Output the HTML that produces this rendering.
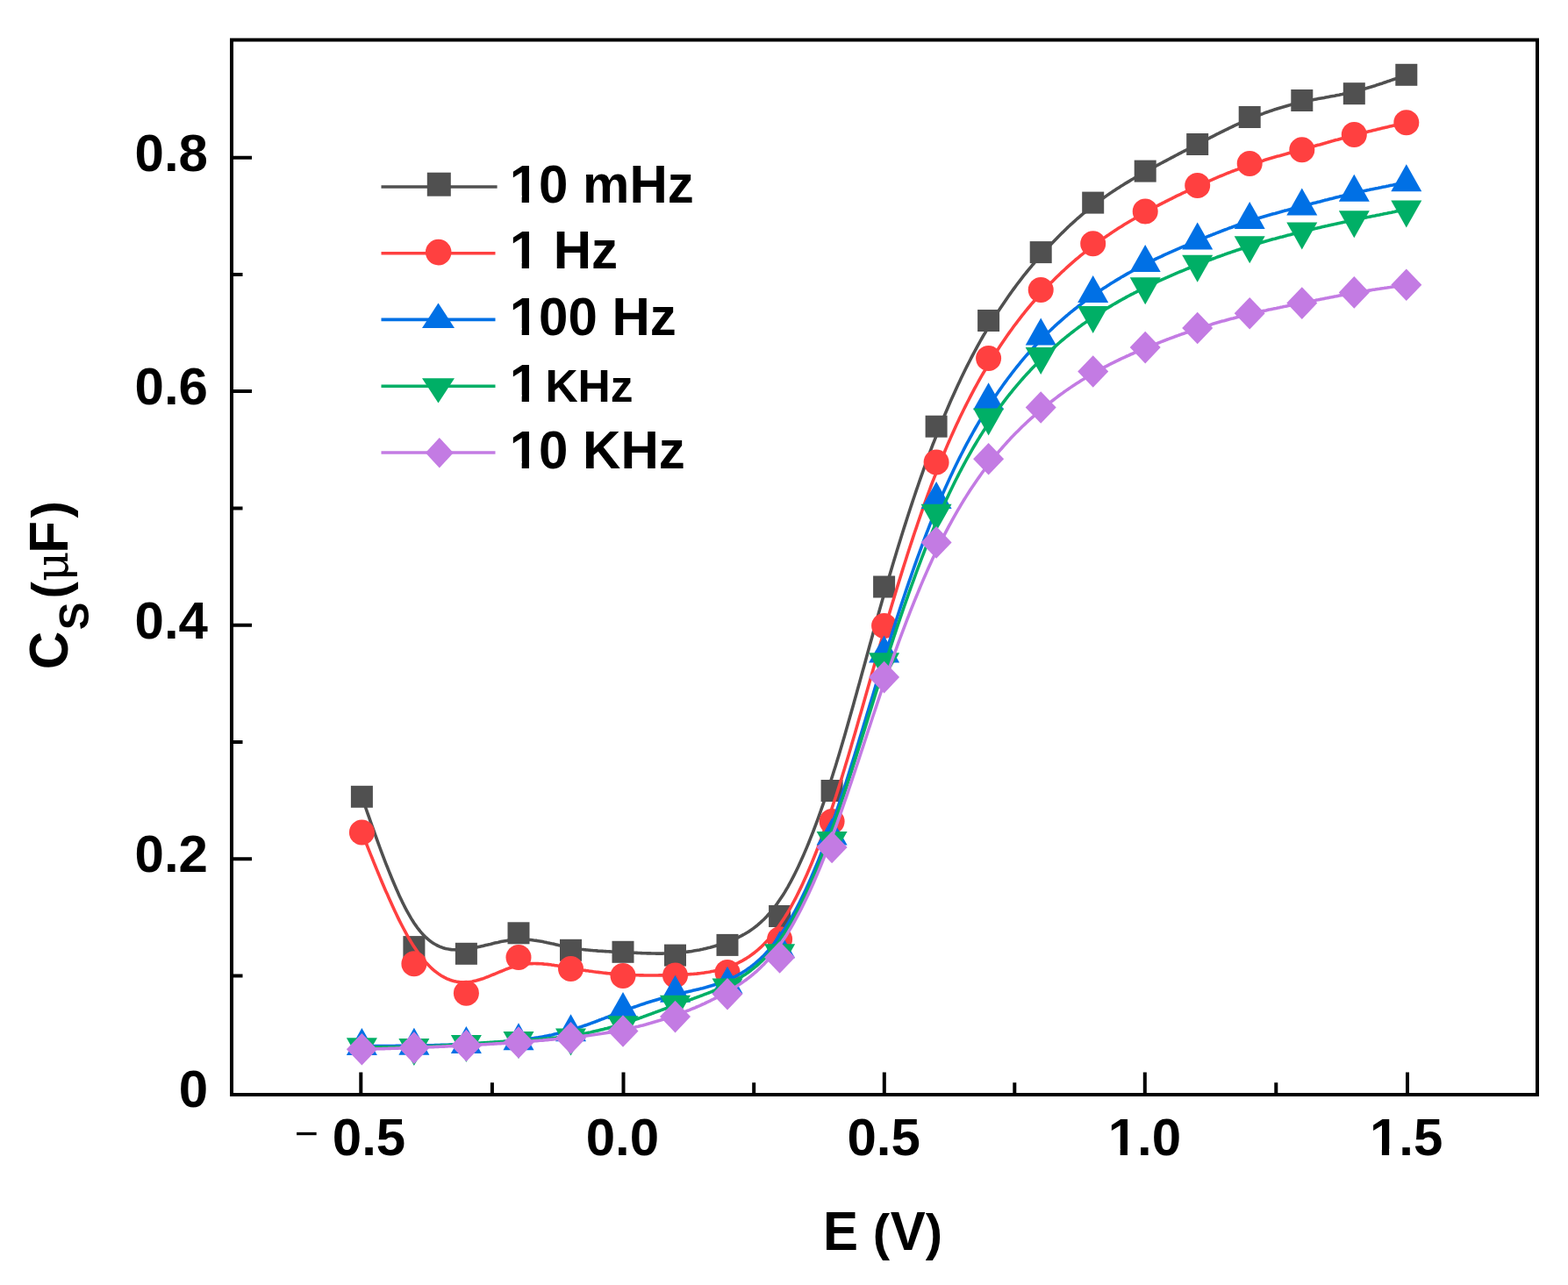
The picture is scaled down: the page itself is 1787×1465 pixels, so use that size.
<!DOCTYPE html>
<html><head><meta charset="utf-8"><title>Cs vs E</title>
<style>
html,body{margin:0;padding:0;background:#fff;}
body{width:1787px;height:1465px;overflow:hidden;}
svg{display:block;}
text{font-family:"Liberation Sans",Arial,sans-serif;font-weight:bold;fill:#000;}
</style></head><body>
<svg width="1787" height="1465" viewBox="0 0 1787 1465">
<rect width="1787" height="1465" fill="#fff"/>
<path d="M412.4,908.3 L414.1,913.2 L415.8,918.1 L417.5,923.0 L419.2,927.9 L420.9,932.7 L422.6,937.6 L424.3,942.4 L426.0,947.2 L427.7,951.9 L429.4,956.7 L431.1,961.4 L432.8,966.0 L434.5,970.6 L436.2,975.2 L437.9,979.7 L439.6,984.1 L441.4,988.5 L443.1,992.8 L444.8,997.0 L446.5,1001.2 L448.2,1005.3 L449.9,1009.3 L451.6,1013.3 L453.3,1017.1 L455.0,1020.9 L456.7,1024.5 L458.4,1028.1 L460.1,1031.5 L461.8,1034.9 L463.5,1038.1 L465.2,1041.2 L466.9,1044.2 L468.6,1047.1 L470.3,1049.8 L472.0,1052.5 L473.7,1054.9 L475.4,1057.3 L477.1,1059.5 L478.8,1061.6 L480.5,1063.6 L482.2,1065.5 L483.9,1067.2 L485.6,1068.9 L487.3,1070.4 L489.0,1071.8 L490.7,1073.2 L492.4,1074.4 L494.1,1075.5 L495.8,1076.5 L497.6,1077.5 L499.3,1078.3 L501.0,1079.1 L502.7,1079.8 L504.4,1080.4 L506.1,1080.9 L507.8,1081.4 L509.5,1081.8 L511.2,1082.1 L512.9,1082.4 L514.6,1082.6 L516.3,1082.7 L518.0,1082.8 L519.7,1082.9 L521.4,1082.9 L523.1,1082.8 L524.8,1082.8 L526.5,1082.6 L528.2,1082.5 L529.9,1082.3 L531.6,1082.1 L533.3,1081.8 L535.0,1081.6 L536.7,1081.3 L538.4,1081.0 L540.1,1080.7 L541.8,1080.3 L543.5,1080.0 L545.2,1079.6 L546.9,1079.2 L548.6,1078.8 L550.3,1078.4 L552.0,1078.0 L553.7,1077.6 L555.5,1077.2 L557.2,1076.8 L558.9,1076.4 L560.6,1075.9 L562.3,1075.5 L564.0,1075.1 L565.7,1074.7 L567.4,1074.4 L569.1,1074.0 L570.8,1073.6 L572.5,1073.3 L574.2,1073.0 L575.9,1072.7 L577.6,1072.4 L579.3,1072.1 L581.0,1071.8 L582.7,1071.6 L584.4,1071.4 L586.1,1071.3 L587.8,1071.1 L589.5,1071.0 L591.2,1071.0 L592.9,1070.9 L594.6,1070.9 L596.3,1071.0 L598.0,1071.0 L599.7,1071.1 L601.4,1071.2 L603.1,1071.4 L604.8,1071.5 L606.5,1071.7 L608.2,1072.0 L609.9,1072.2 L611.7,1072.4 L613.4,1072.7 L615.1,1073.0 L616.8,1073.3 L618.5,1073.6 L620.2,1074.0 L621.9,1074.3 L623.6,1074.7 L625.3,1075.0 L627.0,1075.4 L628.7,1075.8 L630.4,1076.1 L632.1,1076.5 L633.8,1076.9 L635.5,1077.3 L637.2,1077.7 L638.9,1078.0 L640.6,1078.4 L642.3,1078.8 L644.0,1079.1 L645.7,1079.5 L647.4,1079.8 L649.1,1080.1 L650.8,1080.4 L652.5,1080.7 L654.2,1081.0 L655.9,1081.3 L657.6,1081.6 L659.3,1081.8 L661.0,1082.0 L662.7,1082.3 L664.4,1082.5 L666.1,1082.7 L667.9,1082.9 L669.6,1083.0 L671.3,1083.2 L673.0,1083.4 L674.7,1083.5 L676.4,1083.7 L678.1,1083.8 L679.8,1083.9 L681.5,1084.1 L683.2,1084.2 L684.9,1084.3 L686.6,1084.4 L688.3,1084.5 L690.0,1084.6 L691.7,1084.7 L693.4,1084.8 L695.1,1084.9 L696.8,1085.0 L698.5,1085.1 L700.2,1085.1 L701.9,1085.2 L703.6,1085.3 L705.3,1085.4 L707.0,1085.5 L708.7,1085.5 L710.4,1085.6 L712.1,1085.7 L713.8,1085.8 L715.5,1085.9 L717.2,1086.0 L718.9,1086.0 L720.6,1086.1 L722.3,1086.2 L724.0,1086.3 L725.8,1086.4 L727.5,1086.5 L729.2,1086.5 L730.9,1086.6 L732.6,1086.7 L734.3,1086.7 L736.0,1086.8 L737.7,1086.9 L739.4,1086.9 L741.1,1086.9 L742.8,1087.0 L744.5,1087.0 L746.2,1087.0 L747.9,1087.1 L749.6,1087.1 L751.3,1087.1 L753.0,1087.1 L754.7,1087.1 L756.4,1087.0 L758.1,1087.0 L759.8,1087.0 L761.5,1086.9 L763.2,1086.9 L764.9,1086.8 L766.6,1086.7 L768.3,1086.6 L770.0,1086.5 L771.7,1086.4 L773.4,1086.2 L775.1,1086.1 L776.8,1085.9 L778.5,1085.7 L780.2,1085.5 L782.0,1085.3 L783.7,1085.1 L785.4,1084.9 L787.1,1084.7 L788.8,1084.4 L790.5,1084.1 L792.2,1083.8 L793.9,1083.5 L795.6,1083.2 L797.3,1082.9 L799.0,1082.5 L800.7,1082.2 L802.4,1081.8 L804.1,1081.4 L805.8,1081.0 L807.5,1080.6 L809.2,1080.2 L810.9,1079.7 L812.6,1079.2 L814.3,1078.8 L816.0,1078.2 L817.7,1077.7 L819.4,1077.2 L821.1,1076.6 L822.8,1076.1 L824.5,1075.5 L826.2,1074.9 L827.9,1074.3 L829.6,1073.6 L831.3,1073.0 L833.0,1072.3 L834.7,1071.6 L836.4,1070.9 L838.2,1070.2 L839.9,1069.4 L841.6,1068.6 L843.3,1067.7 L845.0,1066.9 L846.7,1065.9 L848.4,1065.0 L850.1,1064.0 L851.8,1063.0 L853.5,1061.9 L855.2,1060.8 L856.9,1059.6 L858.6,1058.4 L860.3,1057.1 L862.0,1055.8 L863.7,1054.4 L865.4,1052.9 L867.1,1051.4 L868.8,1049.8 L870.5,1048.2 L872.2,1046.5 L873.9,1044.7 L875.6,1042.8 L877.3,1040.9 L879.0,1038.9 L880.7,1036.8 L882.4,1034.6 L884.1,1032.4 L885.8,1030.1 L887.5,1027.6 L889.2,1025.1 L890.9,1022.5 L892.6,1019.9 L894.4,1017.1 L896.1,1014.2 L897.8,1011.3 L899.5,1008.2 L901.2,1005.1 L902.9,1001.9 L904.6,998.6 L906.3,995.2 L908.0,991.7 L909.7,988.2 L911.4,984.5 L913.1,980.8 L914.8,977.0 L916.5,973.1 L918.2,969.1 L919.9,965.1 L921.6,961.0 L923.3,956.7 L925.0,952.4 L926.7,948.1 L928.4,943.6 L930.1,939.1 L931.8,934.5 L933.5,929.8 L935.2,925.0 L936.9,920.2 L938.6,915.3 L940.3,910.3 L942.0,905.2 L943.7,900.0 L945.4,894.8 L947.1,889.5 L948.8,884.2 L950.5,878.7 L952.3,873.2 L954.0,867.6 L955.7,862.0 L957.4,856.3 L959.1,850.6 L960.8,844.8 L962.5,838.9 L964.2,833.0 L965.9,827.1 L967.6,821.1 L969.3,815.1 L971.0,809.0 L972.7,802.9 L974.4,796.8 L976.1,790.7 L977.8,784.6 L979.5,778.4 L981.2,772.2 L982.9,766.1 L984.6,759.9 L986.3,753.7 L988.0,747.5 L989.7,741.3 L991.4,735.1 L993.1,728.9 L994.8,722.8 L996.5,716.6 L998.2,710.5 L999.9,704.4 L1001.6,698.3 L1003.3,692.3 L1005.0,686.2 L1006.7,680.3 L1008.5,674.3 L1010.2,668.4 L1011.9,662.6 L1013.6,656.7 L1015.3,651.0 L1017.0,645.2 L1018.7,639.5 L1020.4,633.9 L1022.1,628.3 L1023.8,622.7 L1025.5,617.2 L1027.2,611.7 L1028.9,606.3 L1030.6,600.9 L1032.3,595.6 L1034.0,590.3 L1035.7,585.0 L1037.4,579.8 L1039.1,574.6 L1040.8,569.5 L1042.5,564.5 L1044.2,559.4 L1045.9,554.5 L1047.6,549.5 L1049.3,544.6 L1051.0,539.8 L1052.7,535.0 L1054.4,530.3 L1056.1,525.6 L1057.8,521.0 L1059.5,516.4 L1061.2,511.8 L1062.9,507.3 L1064.7,502.9 L1066.4,498.5 L1068.1,494.2 L1069.8,489.9 L1071.5,485.6 L1073.2,481.5 L1074.9,477.3 L1076.6,473.2 L1078.3,469.2 L1080.0,465.2 L1081.7,461.2 L1083.4,457.3 L1085.1,453.5 L1086.8,449.7 L1088.5,445.9 L1090.2,442.2 L1091.9,438.5 L1093.6,434.9 L1095.3,431.3 L1097.0,427.8 L1098.7,424.3 L1100.4,420.8 L1102.1,417.4 L1103.8,414.0 L1105.5,410.7 L1107.2,407.4 L1108.9,404.2 L1110.6,401.0 L1112.3,397.8 L1114.0,394.6 L1115.7,391.6 L1117.4,388.5 L1119.1,385.5 L1120.8,382.5 L1122.6,379.6 L1124.3,376.6 L1126.0,373.8 L1127.7,370.9 L1129.4,368.1 L1131.1,365.4 L1132.8,362.6 L1134.5,359.9 L1136.2,357.3 L1137.9,354.6 L1139.6,352.0 L1141.3,349.4 L1143.0,346.9 L1144.7,344.4 L1146.4,341.9 L1148.1,339.4 L1149.8,337.0 L1151.5,334.6 L1153.2,332.3 L1154.9,329.9 L1156.6,327.6 L1158.3,325.3 L1160.0,323.0 L1161.7,320.8 L1163.4,318.6 L1165.1,316.4 L1166.8,314.2 L1168.5,312.1 L1170.2,310.0 L1171.9,307.9 L1173.6,305.8 L1175.3,303.8 L1177.0,301.7 L1178.8,299.7 L1180.5,297.7 L1182.2,295.7 L1183.9,293.8 L1185.6,291.8 L1187.3,289.9 L1189.0,288.0 L1190.7,286.1 L1192.4,284.3 L1194.1,282.4 L1195.8,280.6 L1197.5,278.8 L1199.2,277.0 L1200.9,275.2 L1202.6,273.4 L1204.3,271.7 L1206.0,269.9 L1207.7,268.2 L1209.4,266.5 L1211.1,264.9 L1212.8,263.2 L1214.5,261.6 L1216.2,259.9 L1217.9,258.3 L1219.6,256.7 L1221.3,255.2 L1223.0,253.6 L1224.7,252.1 L1226.4,250.5 L1228.1,249.0 L1229.8,247.6 L1231.5,246.1 L1233.2,244.6 L1235.0,243.2 L1236.7,241.8 L1238.4,240.4 L1240.1,239.0 L1241.8,237.6 L1243.5,236.3 L1245.2,234.9 L1246.9,233.6 L1248.6,232.3 L1250.3,231.0 L1252.0,229.7 L1253.7,228.5 L1255.4,227.2 L1257.1,226.0 L1258.8,224.8 L1260.5,223.6 L1262.2,222.4 L1263.9,221.2 L1265.6,220.1 L1267.3,218.9 L1269.0,217.8 L1270.7,216.7 L1272.4,215.6 L1274.1,214.5 L1275.8,213.4 L1277.5,212.3 L1279.2,211.3 L1280.9,210.2 L1282.6,209.1 L1284.3,208.1 L1286.0,207.1 L1287.7,206.1 L1289.4,205.0 L1291.2,204.0 L1292.9,203.0 L1294.6,202.1 L1296.3,201.1 L1298.0,200.1 L1299.7,199.1 L1301.4,198.2 L1303.1,197.2 L1304.8,196.2 L1306.5,195.3 L1308.2,194.3 L1309.9,193.4 L1311.6,192.5 L1313.3,191.5 L1315.0,190.6 L1316.7,189.7 L1318.4,188.7 L1320.1,187.8 L1321.8,186.9 L1323.5,186.0 L1325.2,185.1 L1326.9,184.2 L1328.6,183.3 L1330.3,182.4 L1332.0,181.5 L1333.7,180.6 L1335.4,179.7 L1337.1,178.8 L1338.8,177.9 L1340.5,177.0 L1342.2,176.1 L1343.9,175.2 L1345.6,174.3 L1347.3,173.4 L1349.1,172.5 L1350.8,171.7 L1352.5,170.8 L1354.2,169.9 L1355.9,169.0 L1357.6,168.1 L1359.3,167.3 L1361.0,166.4 L1362.7,165.5 L1364.4,164.6 L1366.1,163.7 L1367.8,162.8 L1369.5,162.0 L1371.2,161.1 L1372.9,160.2 L1374.6,159.3 L1376.3,158.4 L1378.0,157.6 L1379.7,156.7 L1381.4,155.8 L1383.1,155.0 L1384.8,154.1 L1386.5,153.2 L1388.2,152.4 L1389.9,151.5 L1391.6,150.7 L1393.3,149.8 L1395.0,149.0 L1396.7,148.1 L1398.4,147.3 L1400.1,146.5 L1401.8,145.6 L1403.5,144.8 L1405.3,144.0 L1407.0,143.2 L1408.7,142.4 L1410.4,141.6 L1412.1,140.8 L1413.8,140.1 L1415.5,139.3 L1417.2,138.5 L1418.9,137.8 L1420.6,137.1 L1422.3,136.3 L1424.0,135.6 L1425.7,134.9 L1427.4,134.2 L1429.1,133.5 L1430.8,132.8 L1432.5,132.1 L1434.2,131.5 L1435.9,130.8 L1437.6,130.2 L1439.3,129.6 L1441.0,128.9 L1442.7,128.3 L1444.4,127.7 L1446.1,127.1 L1447.8,126.5 L1449.5,126.0 L1451.2,125.4 L1452.9,124.8 L1454.6,124.3 L1456.3,123.7 L1458.0,123.2 L1459.7,122.7 L1461.5,122.2 L1463.2,121.7 L1464.9,121.2 L1466.6,120.7 L1468.3,120.2 L1470.0,119.8 L1471.7,119.3 L1473.4,118.9 L1475.1,118.4 L1476.8,118.0 L1478.5,117.6 L1480.2,117.2 L1481.9,116.8 L1483.6,116.4 L1485.3,116.0 L1487.0,115.7 L1488.7,115.3 L1490.4,114.9 L1492.1,114.6 L1493.8,114.2 L1495.5,113.9 L1497.2,113.6 L1498.9,113.2 L1500.6,112.9 L1502.3,112.6 L1504.0,112.3 L1505.7,112.0 L1507.4,111.7 L1509.1,111.4 L1510.8,111.0 L1512.5,110.7 L1514.2,110.4 L1515.9,110.1 L1517.6,109.8 L1519.4,109.5 L1521.1,109.2 L1522.8,108.8 L1524.5,108.5 L1526.2,108.2 L1527.9,107.8 L1529.6,107.5 L1531.3,107.1 L1533.0,106.8 L1534.7,106.4 L1536.4,106.0 L1538.1,105.7 L1539.8,105.3 L1541.5,104.9 L1543.2,104.5 L1544.9,104.0 L1546.6,103.6 L1548.3,103.2 L1550.0,102.7 L1551.7,102.2 L1553.4,101.8 L1555.1,101.3 L1556.8,100.8 L1558.5,100.3 L1560.2,99.8 L1561.9,99.3 L1563.6,98.7 L1565.3,98.2 L1567.0,97.7 L1568.7,97.1 L1570.4,96.6 L1572.1,96.0 L1573.8,95.4 L1575.6,94.9 L1577.3,94.3 L1579.0,93.7 L1580.7,93.1 L1582.4,92.6 L1584.1,92.0 L1585.8,91.4 L1587.5,90.8 L1589.2,90.2 L1590.9,89.6 L1592.6,89.0 L1594.3,88.4 L1596.0,87.7 L1597.7,87.1 L1599.4,86.5 L1601.1,85.9 L1602.8,85.3" fill="none" stroke="#505050" stroke-width="3.6" stroke-linejoin="round"/>
<g><rect x="399.9" y="895.8" width="25" height="25" fill="#505050"/><rect x="459.4" y="1067.1" width="25" height="25" fill="#505050"/><rect x="518.9" y="1074.8" width="25" height="25" fill="#505050"/><rect x="578.5" y="1051.3" width="25" height="25" fill="#505050"/><rect x="638.0" y="1070.8" width="25" height="25" fill="#505050"/><rect x="697.5" y="1072.8" width="25" height="25" fill="#505050"/><rect x="757.0" y="1076.6" width="25" height="25" fill="#505050"/><rect x="816.5" y="1064.9" width="25" height="25" fill="#505050"/><rect x="876.1" y="1032.0" width="25" height="25" fill="#505050"/><rect x="935.6" y="889.0" width="25" height="25" fill="#505050"/><rect x="995.1" y="656.5" width="25" height="25" fill="#505050"/><rect x="1054.6" y="473.7" width="25" height="25" fill="#505050"/><rect x="1114.1" y="353.0" width="25" height="25" fill="#505050"/><rect x="1173.7" y="275.1" width="25" height="25" fill="#505050"/><rect x="1233.2" y="218.6" width="25" height="25" fill="#505050"/><rect x="1292.7" y="182.6" width="25" height="25" fill="#505050"/><rect x="1352.2" y="152.0" width="25" height="25" fill="#505050"/><rect x="1411.7" y="121.0" width="25" height="25" fill="#505050"/><rect x="1471.3" y="102.0" width="25" height="25" fill="#505050"/><rect x="1530.8" y="94.2" width="25" height="25" fill="#505050"/><rect x="1590.3" y="72.8" width="25" height="25" fill="#505050"/></g>
<path d="M412.4,949.0 L414.1,953.3 L415.8,957.6 L417.5,961.8 L419.2,966.1 L420.9,970.4 L422.6,974.6 L424.3,978.8 L426.0,983.1 L427.7,987.2 L429.4,991.4 L431.1,995.5 L432.8,999.6 L434.5,1003.7 L436.2,1007.8 L437.9,1011.8 L439.6,1015.7 L441.4,1019.6 L443.1,1023.5 L444.8,1027.3 L446.5,1031.1 L448.2,1034.8 L449.9,1038.5 L451.6,1042.1 L453.3,1045.6 L455.0,1049.1 L456.7,1052.5 L458.4,1055.8 L460.1,1059.0 L461.8,1062.2 L463.5,1065.3 L465.2,1068.3 L466.9,1071.3 L468.6,1074.1 L470.3,1076.9 L472.0,1079.5 L473.7,1082.1 L475.4,1084.6 L477.1,1087.0 L478.8,1089.2 L480.5,1091.4 L482.2,1093.5 L483.9,1095.6 L485.6,1097.5 L487.3,1099.3 L489.0,1101.1 L490.7,1102.8 L492.4,1104.4 L494.1,1105.9 L495.8,1107.3 L497.6,1108.6 L499.3,1109.9 L501.0,1111.1 L502.7,1112.2 L504.4,1113.2 L506.1,1114.1 L507.8,1115.0 L509.5,1115.8 L511.2,1116.5 L512.9,1117.2 L514.6,1117.8 L516.3,1118.3 L518.0,1118.7 L519.7,1119.1 L521.4,1119.4 L523.1,1119.6 L524.8,1119.8 L526.5,1119.9 L528.2,1120.0 L529.9,1119.9 L531.6,1119.9 L533.3,1119.7 L535.0,1119.5 L536.7,1119.3 L538.4,1119.0 L540.1,1118.6 L541.8,1118.2 L543.5,1117.8 L545.2,1117.3 L546.9,1116.8 L548.6,1116.2 L550.3,1115.7 L552.0,1115.1 L553.7,1114.4 L555.5,1113.8 L557.2,1113.1 L558.9,1112.4 L560.6,1111.7 L562.3,1111.0 L564.0,1110.3 L565.7,1109.6 L567.4,1108.9 L569.1,1108.2 L570.8,1107.5 L572.5,1106.8 L574.2,1106.1 L575.9,1105.4 L577.6,1104.7 L579.3,1104.1 L581.0,1103.5 L582.7,1102.9 L584.4,1102.4 L586.1,1101.8 L587.8,1101.3 L589.5,1100.9 L591.2,1100.5 L592.9,1100.1 L594.6,1099.8 L596.3,1099.5 L598.0,1099.3 L599.7,1099.1 L601.4,1098.9 L603.1,1098.7 L604.8,1098.6 L606.5,1098.6 L608.2,1098.5 L609.9,1098.5 L611.7,1098.6 L613.4,1098.6 L615.1,1098.7 L616.8,1098.8 L618.5,1098.9 L620.2,1099.1 L621.9,1099.2 L623.6,1099.4 L625.3,1099.6 L627.0,1099.8 L628.7,1100.1 L630.4,1100.3 L632.1,1100.6 L633.8,1100.8 L635.5,1101.1 L637.2,1101.4 L638.9,1101.7 L640.6,1102.0 L642.3,1102.3 L644.0,1102.6 L645.7,1102.9 L647.4,1103.2 L649.1,1103.5 L650.8,1103.8 L652.5,1104.1 L654.2,1104.4 L655.9,1104.7 L657.6,1105.0 L659.3,1105.2 L661.0,1105.5 L662.7,1105.8 L664.4,1106.1 L666.1,1106.3 L667.9,1106.6 L669.6,1106.8 L671.3,1107.1 L673.0,1107.3 L674.7,1107.5 L676.4,1107.8 L678.1,1108.0 L679.8,1108.2 L681.5,1108.4 L683.2,1108.6 L684.9,1108.8 L686.6,1109.0 L688.3,1109.2 L690.0,1109.4 L691.7,1109.6 L693.4,1109.8 L695.1,1109.9 L696.8,1110.1 L698.5,1110.2 L700.2,1110.4 L701.9,1110.5 L703.6,1110.7 L705.3,1110.8 L707.0,1110.9 L708.7,1111.0 L710.4,1111.1 L712.1,1111.2 L713.8,1111.3 L715.5,1111.4 L717.2,1111.5 L718.9,1111.6 L720.6,1111.6 L722.3,1111.7 L724.0,1111.8 L725.8,1111.8 L727.5,1111.8 L729.2,1111.9 L730.9,1111.9 L732.6,1111.9 L734.3,1112.0 L736.0,1112.0 L737.7,1112.0 L739.4,1112.0 L741.1,1112.0 L742.8,1112.0 L744.5,1112.0 L746.2,1112.0 L747.9,1112.0 L749.6,1112.0 L751.3,1111.9 L753.0,1111.9 L754.7,1111.9 L756.4,1111.9 L758.1,1111.8 L759.8,1111.8 L761.5,1111.7 L763.2,1111.7 L764.9,1111.6 L766.6,1111.6 L768.3,1111.5 L770.0,1111.5 L771.7,1111.4 L773.4,1111.4 L775.1,1111.3 L776.8,1111.2 L778.5,1111.1 L780.2,1111.1 L782.0,1111.0 L783.7,1110.9 L785.4,1110.8 L787.1,1110.6 L788.8,1110.5 L790.5,1110.4 L792.2,1110.2 L793.9,1110.1 L795.6,1109.9 L797.3,1109.7 L799.0,1109.5 L800.7,1109.3 L802.4,1109.1 L804.1,1108.8 L805.8,1108.5 L807.5,1108.3 L809.2,1108.0 L810.9,1107.6 L812.6,1107.3 L814.3,1106.9 L816.0,1106.5 L817.7,1106.1 L819.4,1105.7 L821.1,1105.2 L822.8,1104.8 L824.5,1104.3 L826.2,1103.7 L827.9,1103.2 L829.6,1102.6 L831.3,1102.0 L833.0,1101.3 L834.7,1100.6 L836.4,1099.9 L838.2,1099.2 L839.9,1098.4 L841.6,1097.6 L843.3,1096.7 L845.0,1095.8 L846.7,1094.9 L848.4,1093.9 L850.1,1092.9 L851.8,1091.8 L853.5,1090.7 L855.2,1089.5 L856.9,1088.3 L858.6,1087.0 L860.3,1085.7 L862.0,1084.3 L863.7,1082.9 L865.4,1081.4 L867.1,1079.9 L868.8,1078.2 L870.5,1076.6 L872.2,1074.8 L873.9,1073.0 L875.6,1071.2 L877.3,1069.2 L879.0,1067.2 L880.7,1065.1 L882.4,1063.0 L884.1,1060.8 L885.8,1058.5 L887.5,1056.1 L889.2,1053.6 L890.9,1051.1 L892.6,1048.5 L894.4,1045.8 L896.1,1043.0 L897.8,1040.2 L899.5,1037.3 L901.2,1034.3 L902.9,1031.2 L904.6,1028.0 L906.3,1024.8 L908.0,1021.5 L909.7,1018.1 L911.4,1014.6 L913.1,1011.1 L914.8,1007.5 L916.5,1003.8 L918.2,1000.0 L919.9,996.2 L921.6,992.3 L923.3,988.3 L925.0,984.2 L926.7,980.0 L928.4,975.8 L930.1,971.5 L931.8,967.2 L933.5,962.7 L935.2,958.2 L936.9,953.6 L938.6,948.9 L940.3,944.2 L942.0,939.4 L943.7,934.5 L945.4,929.5 L947.1,924.5 L948.8,919.4 L950.5,914.2 L952.3,909.0 L954.0,903.7 L955.7,898.3 L957.4,892.8 L959.1,887.4 L960.8,881.8 L962.5,876.2 L964.2,870.6 L965.9,864.9 L967.6,859.2 L969.3,853.4 L971.0,847.6 L972.7,841.7 L974.4,835.9 L976.1,830.0 L977.8,824.1 L979.5,818.1 L981.2,812.2 L982.9,806.2 L984.6,800.2 L986.3,794.2 L988.0,788.2 L989.7,782.2 L991.4,776.2 L993.1,770.2 L994.8,764.2 L996.5,758.2 L998.2,752.2 L999.9,746.2 L1001.6,740.2 L1003.3,734.3 L1005.0,728.4 L1006.7,722.5 L1008.5,716.7 L1010.2,710.8 L1011.9,705.0 L1013.6,699.3 L1015.3,693.5 L1017.0,687.8 L1018.7,682.2 L1020.4,676.5 L1022.1,670.9 L1023.8,665.4 L1025.5,659.9 L1027.2,654.4 L1028.9,648.9 L1030.6,643.5 L1032.3,638.2 L1034.0,632.8 L1035.7,627.5 L1037.4,622.3 L1039.1,617.1 L1040.8,611.9 L1042.5,606.8 L1044.2,601.8 L1045.9,596.7 L1047.6,591.8 L1049.3,586.8 L1051.0,581.9 L1052.7,577.1 L1054.4,572.3 L1056.1,567.6 L1057.8,562.9 L1059.5,558.3 L1061.2,553.7 L1062.9,549.2 L1064.7,544.7 L1066.4,540.3 L1068.1,535.9 L1069.8,531.6 L1071.5,527.4 L1073.2,523.2 L1074.9,519.0 L1076.6,515.0 L1078.3,510.9 L1080.0,506.9 L1081.7,503.0 L1083.4,499.1 L1085.1,495.3 L1086.8,491.5 L1088.5,487.7 L1090.2,484.1 L1091.9,480.4 L1093.6,476.8 L1095.3,473.3 L1097.0,469.7 L1098.7,466.3 L1100.4,462.9 L1102.1,459.5 L1103.8,456.2 L1105.5,452.9 L1107.2,449.6 L1108.9,446.4 L1110.6,443.2 L1112.3,440.1 L1114.0,437.0 L1115.7,433.9 L1117.4,430.9 L1119.1,427.9 L1120.8,425.0 L1122.6,422.1 L1124.3,419.2 L1126.0,416.4 L1127.7,413.6 L1129.4,410.8 L1131.1,408.0 L1132.8,405.3 L1134.5,402.6 L1136.2,400.0 L1137.9,397.4 L1139.6,394.8 L1141.3,392.2 L1143.0,389.7 L1144.7,387.2 L1146.4,384.7 L1148.1,382.3 L1149.8,379.9 L1151.5,377.5 L1153.2,375.2 L1154.9,372.8 L1156.6,370.5 L1158.3,368.3 L1160.0,366.0 L1161.7,363.8 L1163.4,361.6 L1165.1,359.4 L1166.8,357.3 L1168.5,355.2 L1170.2,353.1 L1171.9,351.0 L1173.6,349.0 L1175.3,346.9 L1177.0,345.0 L1178.8,343.0 L1180.5,341.0 L1182.2,339.1 L1183.9,337.2 L1185.6,335.3 L1187.3,333.4 L1189.0,331.6 L1190.7,329.7 L1192.4,327.9 L1194.1,326.2 L1195.8,324.4 L1197.5,322.6 L1199.2,320.9 L1200.9,319.2 L1202.6,317.5 L1204.3,315.8 L1206.0,314.2 L1207.7,312.6 L1209.4,310.9 L1211.1,309.3 L1212.8,307.8 L1214.5,306.2 L1216.2,304.6 L1217.9,303.1 L1219.6,301.6 L1221.3,300.1 L1223.0,298.6 L1224.7,297.2 L1226.4,295.7 L1228.1,294.3 L1229.8,292.9 L1231.5,291.4 L1233.2,290.1 L1235.0,288.7 L1236.7,287.3 L1238.4,286.0 L1240.1,284.6 L1241.8,283.3 L1243.5,282.0 L1245.2,280.7 L1246.9,279.5 L1248.6,278.2 L1250.3,276.9 L1252.0,275.7 L1253.7,274.5 L1255.4,273.3 L1257.1,272.1 L1258.8,270.9 L1260.5,269.7 L1262.2,268.5 L1263.9,267.4 L1265.6,266.2 L1267.3,265.1 L1269.0,263.9 L1270.7,262.8 L1272.4,261.7 L1274.1,260.6 L1275.8,259.5 L1277.5,258.5 L1279.2,257.4 L1280.9,256.3 L1282.6,255.3 L1284.3,254.3 L1286.0,253.2 L1287.7,252.2 L1289.4,251.2 L1291.2,250.2 L1292.9,249.2 L1294.6,248.2 L1296.3,247.2 L1298.0,246.2 L1299.7,245.3 L1301.4,244.3 L1303.1,243.3 L1304.8,242.4 L1306.5,241.4 L1308.2,240.5 L1309.9,239.6 L1311.6,238.6 L1313.3,237.7 L1315.0,236.8 L1316.7,235.9 L1318.4,235.0 L1320.1,234.1 L1321.8,233.2 L1323.5,232.3 L1325.2,231.4 L1326.9,230.6 L1328.6,229.7 L1330.3,228.8 L1332.0,228.0 L1333.7,227.1 L1335.4,226.3 L1337.1,225.4 L1338.8,224.6 L1340.5,223.7 L1342.2,222.9 L1343.9,222.1 L1345.6,221.3 L1347.3,220.4 L1349.1,219.6 L1350.8,218.8 L1352.5,218.0 L1354.2,217.2 L1355.9,216.4 L1357.6,215.6 L1359.3,214.8 L1361.0,214.0 L1362.7,213.2 L1364.4,212.5 L1366.1,211.7 L1367.8,210.9 L1369.5,210.1 L1371.2,209.4 L1372.9,208.6 L1374.6,207.8 L1376.3,207.1 L1378.0,206.3 L1379.7,205.6 L1381.4,204.9 L1383.1,204.1 L1384.8,203.4 L1386.5,202.7 L1388.2,201.9 L1389.9,201.2 L1391.6,200.5 L1393.3,199.8 L1395.0,199.1 L1396.7,198.4 L1398.4,197.7 L1400.1,197.0 L1401.8,196.4 L1403.5,195.7 L1405.3,195.0 L1407.0,194.4 L1408.7,193.7 L1410.4,193.1 L1412.1,192.4 L1413.8,191.8 L1415.5,191.2 L1417.2,190.6 L1418.9,189.9 L1420.6,189.3 L1422.3,188.7 L1424.0,188.2 L1425.7,187.6 L1427.4,187.0 L1429.1,186.4 L1430.8,185.9 L1432.5,185.3 L1434.2,184.8 L1435.9,184.2 L1437.6,183.7 L1439.3,183.2 L1441.0,182.6 L1442.7,182.1 L1444.4,181.6 L1446.1,181.1 L1447.8,180.6 L1449.5,180.1 L1451.2,179.6 L1452.9,179.1 L1454.6,178.6 L1456.3,178.1 L1458.0,177.7 L1459.7,177.2 L1461.5,176.7 L1463.2,176.2 L1464.9,175.8 L1466.6,175.3 L1468.3,174.8 L1470.0,174.3 L1471.7,173.9 L1473.4,173.4 L1475.1,172.9 L1476.8,172.5 L1478.5,172.0 L1480.2,171.5 L1481.9,171.1 L1483.6,170.6 L1485.3,170.1 L1487.0,169.6 L1488.7,169.2 L1490.4,168.7 L1492.1,168.2 L1493.8,167.7 L1495.5,167.3 L1497.2,166.8 L1498.9,166.3 L1500.6,165.8 L1502.3,165.3 L1504.0,164.9 L1505.7,164.4 L1507.4,163.9 L1509.1,163.4 L1510.8,162.9 L1512.5,162.5 L1514.2,162.0 L1515.9,161.5 L1517.6,161.0 L1519.4,160.6 L1521.1,160.1 L1522.8,159.6 L1524.5,159.2 L1526.2,158.7 L1527.9,158.2 L1529.6,157.8 L1531.3,157.3 L1533.0,156.8 L1534.7,156.4 L1536.4,155.9 L1538.1,155.5 L1539.8,155.0 L1541.5,154.6 L1543.2,154.1 L1544.9,153.7 L1546.6,153.2 L1548.3,152.8 L1550.0,152.4 L1551.7,151.9 L1553.4,151.5 L1555.1,151.1 L1556.8,150.7 L1558.5,150.2 L1560.2,149.8 L1561.9,149.4 L1563.6,149.0 L1565.3,148.6 L1567.0,148.2 L1568.7,147.8 L1570.4,147.3 L1572.1,146.9 L1573.8,146.5 L1575.6,146.1 L1577.3,145.7 L1579.0,145.3 L1580.7,144.9 L1582.4,144.5 L1584.1,144.1 L1585.8,143.7 L1587.5,143.3 L1589.2,142.9 L1590.9,142.5 L1592.6,142.2 L1594.3,141.8 L1596.0,141.4 L1597.7,141.0 L1599.4,140.6 L1601.1,140.2 L1602.8,139.8" fill="none" stroke="#FF4040" stroke-width="3.6" stroke-linejoin="round"/>
<g><circle cx="412.4" cy="949.0" r="14.5" fill="#FF4040"/><circle cx="471.9" cy="1098.8" r="14.5" fill="#FF4040"/><circle cx="531.4" cy="1132.2" r="14.5" fill="#FF4040"/><circle cx="591.0" cy="1091.6" r="14.5" fill="#FF4040"/><circle cx="650.5" cy="1104.6" r="14.5" fill="#FF4040"/><circle cx="710.0" cy="1112.5" r="14.5" fill="#FF4040"/><circle cx="769.5" cy="1112.0" r="14.5" fill="#FF4040"/><circle cx="829.0" cy="1108.5" r="14.5" fill="#FF4040"/><circle cx="888.6" cy="1070.7" r="14.5" fill="#FF4040"/><circle cx="948.1" cy="936.5" r="14.5" fill="#FF4040"/><circle cx="1007.6" cy="713.5" r="14.5" fill="#FF4040"/><circle cx="1067.1" cy="527.0" r="14.5" fill="#FF4040"/><circle cx="1126.6" cy="408.5" r="14.5" fill="#FF4040"/><circle cx="1186.2" cy="330.4" r="14.5" fill="#FF4040"/><circle cx="1245.7" cy="277.7" r="14.5" fill="#FF4040"/><circle cx="1305.2" cy="240.9" r="14.5" fill="#FF4040"/><circle cx="1364.7" cy="211.6" r="14.5" fill="#FF4040"/><circle cx="1424.2" cy="186.5" r="14.5" fill="#FF4040"/><circle cx="1483.8" cy="170.8" r="14.5" fill="#FF4040"/><circle cx="1543.3" cy="153.5" r="14.5" fill="#FF4040"/><circle cx="1602.8" cy="139.8" r="14.5" fill="#FF4040"/></g>
<path d="M412.4,1192.7 L414.1,1192.7 L415.8,1192.7 L417.5,1192.7 L419.2,1192.7 L420.9,1192.7 L422.6,1192.6 L424.3,1192.6 L426.0,1192.6 L427.7,1192.6 L429.4,1192.6 L431.1,1192.6 L432.8,1192.6 L434.5,1192.6 L436.2,1192.6 L437.9,1192.6 L439.6,1192.5 L441.4,1192.5 L443.1,1192.5 L444.8,1192.5 L446.5,1192.5 L448.2,1192.5 L449.9,1192.5 L451.6,1192.4 L453.3,1192.4 L455.0,1192.4 L456.7,1192.4 L458.4,1192.4 L460.1,1192.3 L461.8,1192.3 L463.5,1192.3 L465.2,1192.3 L466.9,1192.2 L468.6,1192.2 L470.3,1192.2 L472.0,1192.2 L473.7,1192.1 L475.4,1192.1 L477.1,1192.1 L478.8,1192.0 L480.5,1192.0 L482.2,1192.0 L483.9,1191.9 L485.6,1191.9 L487.3,1191.9 L489.0,1191.8 L490.7,1191.8 L492.4,1191.7 L494.1,1191.7 L495.8,1191.6 L497.6,1191.6 L499.3,1191.5 L501.0,1191.5 L502.7,1191.4 L504.4,1191.4 L506.1,1191.3 L507.8,1191.3 L509.5,1191.2 L511.2,1191.2 L512.9,1191.1 L514.6,1191.0 L516.3,1191.0 L518.0,1190.9 L519.7,1190.9 L521.4,1190.8 L523.1,1190.7 L524.8,1190.6 L526.5,1190.6 L528.2,1190.5 L529.9,1190.4 L531.6,1190.3 L533.3,1190.3 L535.0,1190.2 L536.7,1190.1 L538.4,1190.0 L540.1,1189.9 L541.8,1189.8 L543.5,1189.7 L545.2,1189.6 L546.9,1189.6 L548.6,1189.5 L550.3,1189.3 L552.0,1189.2 L553.7,1189.1 L555.5,1189.0 L557.2,1188.9 L558.9,1188.8 L560.6,1188.7 L562.3,1188.5 L564.0,1188.4 L565.7,1188.3 L567.4,1188.2 L569.1,1188.0 L570.8,1187.9 L572.5,1187.7 L574.2,1187.6 L575.9,1187.4 L577.6,1187.3 L579.3,1187.1 L581.0,1186.9 L582.7,1186.8 L584.4,1186.6 L586.1,1186.4 L587.8,1186.2 L589.5,1186.0 L591.2,1185.8 L592.9,1185.6 L594.6,1185.4 L596.3,1185.2 L598.0,1185.0 L599.7,1184.8 L601.4,1184.5 L603.1,1184.3 L604.8,1184.1 L606.5,1183.8 L608.2,1183.6 L609.9,1183.3 L611.7,1183.0 L613.4,1182.8 L615.1,1182.5 L616.8,1182.2 L618.5,1181.9 L620.2,1181.6 L621.9,1181.2 L623.6,1180.9 L625.3,1180.6 L627.0,1180.2 L628.7,1179.9 L630.4,1179.5 L632.1,1179.1 L633.8,1178.7 L635.5,1178.3 L637.2,1177.9 L638.9,1177.5 L640.6,1177.1 L642.3,1176.7 L644.0,1176.2 L645.7,1175.7 L647.4,1175.3 L649.1,1174.8 L650.8,1174.3 L652.5,1173.8 L654.2,1173.2 L655.9,1172.7 L657.6,1172.2 L659.3,1171.6 L661.0,1171.1 L662.7,1170.5 L664.4,1169.9 L666.1,1169.3 L667.9,1168.7 L669.6,1168.1 L671.3,1167.5 L673.0,1166.9 L674.7,1166.2 L676.4,1165.6 L678.1,1165.0 L679.8,1164.3 L681.5,1163.7 L683.2,1163.0 L684.9,1162.4 L686.6,1161.7 L688.3,1161.1 L690.0,1160.4 L691.7,1159.8 L693.4,1159.1 L695.1,1158.4 L696.8,1157.8 L698.5,1157.1 L700.2,1156.5 L701.9,1155.8 L703.6,1155.2 L705.3,1154.5 L707.0,1153.9 L708.7,1153.2 L710.4,1152.6 L712.1,1152.0 L713.8,1151.3 L715.5,1150.7 L717.2,1150.1 L718.9,1149.5 L720.6,1148.9 L722.3,1148.3 L724.0,1147.7 L725.8,1147.1 L727.5,1146.5 L729.2,1145.9 L730.9,1145.3 L732.6,1144.8 L734.3,1144.2 L736.0,1143.6 L737.7,1143.1 L739.4,1142.5 L741.1,1142.0 L742.8,1141.5 L744.5,1140.9 L746.2,1140.4 L747.9,1139.9 L749.6,1139.4 L751.3,1138.9 L753.0,1138.4 L754.7,1137.9 L756.4,1137.4 L758.1,1137.0 L759.8,1136.5 L761.5,1136.0 L763.2,1135.6 L764.9,1135.1 L766.6,1134.7 L768.3,1134.3 L770.0,1133.9 L771.7,1133.4 L773.4,1133.0 L775.1,1132.6 L776.8,1132.2 L778.5,1131.8 L780.2,1131.5 L782.0,1131.1 L783.7,1130.7 L785.4,1130.3 L787.1,1129.9 L788.8,1129.5 L790.5,1129.1 L792.2,1128.7 L793.9,1128.3 L795.6,1127.9 L797.3,1127.5 L799.0,1127.1 L800.7,1126.7 L802.4,1126.2 L804.1,1125.8 L805.8,1125.3 L807.5,1124.8 L809.2,1124.3 L810.9,1123.8 L812.6,1123.3 L814.3,1122.8 L816.0,1122.3 L817.7,1121.7 L819.4,1121.1 L821.1,1120.5 L822.8,1119.9 L824.5,1119.2 L826.2,1118.6 L827.9,1117.9 L829.6,1117.1 L831.3,1116.4 L833.0,1115.6 L834.7,1114.8 L836.4,1114.0 L838.2,1113.1 L839.9,1112.3 L841.6,1111.3 L843.3,1110.4 L845.0,1109.4 L846.7,1108.3 L848.4,1107.3 L850.1,1106.2 L851.8,1105.0 L853.5,1103.8 L855.2,1102.6 L856.9,1101.3 L858.6,1099.9 L860.3,1098.6 L862.0,1097.1 L863.7,1095.6 L865.4,1094.1 L867.1,1092.5 L868.8,1090.9 L870.5,1089.2 L872.2,1087.4 L873.9,1085.6 L875.6,1083.7 L877.3,1081.8 L879.0,1079.8 L880.7,1077.7 L882.4,1075.6 L884.1,1073.4 L885.8,1071.1 L887.5,1068.7 L889.2,1066.3 L890.9,1063.8 L892.6,1061.3 L894.4,1058.7 L896.1,1056.0 L897.8,1053.2 L899.5,1050.3 L901.2,1047.4 L902.9,1044.4 L904.6,1041.4 L906.3,1038.3 L908.0,1035.1 L909.7,1031.8 L911.4,1028.5 L913.1,1025.1 L914.8,1021.6 L916.5,1018.0 L918.2,1014.4 L919.9,1010.8 L921.6,1007.0 L923.3,1003.2 L925.0,999.3 L926.7,995.3 L928.4,991.3 L930.1,987.2 L931.8,983.1 L933.5,978.9 L935.2,974.6 L936.9,970.2 L938.6,965.8 L940.3,961.3 L942.0,956.8 L943.7,952.1 L945.4,947.5 L947.1,942.7 L948.8,937.9 L950.5,933.0 L952.3,928.1 L954.0,923.1 L955.7,918.0 L957.4,912.9 L959.1,907.8 L960.8,902.5 L962.5,897.3 L964.2,892.0 L965.9,886.7 L967.6,881.3 L969.3,875.9 L971.0,870.4 L972.7,865.0 L974.4,859.5 L976.1,854.0 L977.8,848.4 L979.5,842.8 L981.2,837.3 L982.9,831.7 L984.6,826.1 L986.3,820.5 L988.0,814.8 L989.7,809.2 L991.4,803.6 L993.1,798.0 L994.8,792.4 L996.5,786.7 L998.2,781.1 L999.9,775.5 L1001.6,770.0 L1003.3,764.4 L1005.0,758.9 L1006.7,753.4 L1008.5,747.9 L1010.2,742.4 L1011.9,737.0 L1013.6,731.6 L1015.3,726.2 L1017.0,720.8 L1018.7,715.5 L1020.4,710.2 L1022.1,705.0 L1023.8,699.8 L1025.5,694.6 L1027.2,689.4 L1028.9,684.3 L1030.6,679.2 L1032.3,674.2 L1034.0,669.2 L1035.7,664.2 L1037.4,659.3 L1039.1,654.4 L1040.8,649.5 L1042.5,644.7 L1044.2,639.9 L1045.9,635.2 L1047.6,630.5 L1049.3,625.9 L1051.0,621.3 L1052.7,616.7 L1054.4,612.2 L1056.1,607.7 L1057.8,603.3 L1059.5,598.9 L1061.2,594.6 L1062.9,590.4 L1064.7,586.1 L1066.4,582.0 L1068.1,577.8 L1069.8,573.8 L1071.5,569.8 L1073.2,565.8 L1074.9,561.9 L1076.6,558.0 L1078.3,554.2 L1080.0,550.4 L1081.7,546.7 L1083.4,543.0 L1085.1,539.4 L1086.8,535.8 L1088.5,532.2 L1090.2,528.7 L1091.9,525.3 L1093.6,521.9 L1095.3,518.5 L1097.0,515.2 L1098.7,511.9 L1100.4,508.6 L1102.1,505.4 L1103.8,502.3 L1105.5,499.2 L1107.2,496.1 L1108.9,493.0 L1110.6,490.0 L1112.3,487.0 L1114.0,484.1 L1115.7,481.2 L1117.4,478.3 L1119.1,475.5 L1120.8,472.7 L1122.6,470.0 L1124.3,467.2 L1126.0,464.5 L1127.7,461.9 L1129.4,459.2 L1131.1,456.6 L1132.8,454.1 L1134.5,451.5 L1136.2,449.0 L1137.9,446.5 L1139.6,444.1 L1141.3,441.7 L1143.0,439.3 L1144.7,436.9 L1146.4,434.6 L1148.1,432.3 L1149.8,430.0 L1151.5,427.8 L1153.2,425.5 L1154.9,423.3 L1156.6,421.2 L1158.3,419.0 L1160.0,416.9 L1161.7,414.8 L1163.4,412.7 L1165.1,410.7 L1166.8,408.7 L1168.5,406.7 L1170.2,404.7 L1171.9,402.8 L1173.6,400.8 L1175.3,398.9 L1177.0,397.1 L1178.8,395.2 L1180.5,393.4 L1182.2,391.6 L1183.9,389.8 L1185.6,388.0 L1187.3,386.3 L1189.0,384.5 L1190.7,382.8 L1192.4,381.1 L1194.1,379.5 L1195.8,377.8 L1197.5,376.2 L1199.2,374.6 L1200.9,373.0 L1202.6,371.4 L1204.3,369.9 L1206.0,368.3 L1207.7,366.8 L1209.4,365.3 L1211.1,363.8 L1212.8,362.3 L1214.5,360.9 L1216.2,359.5 L1217.9,358.0 L1219.6,356.6 L1221.3,355.2 L1223.0,353.9 L1224.7,352.5 L1226.4,351.2 L1228.1,349.8 L1229.8,348.5 L1231.5,347.2 L1233.2,345.9 L1235.0,344.6 L1236.7,343.4 L1238.4,342.1 L1240.1,340.9 L1241.8,339.6 L1243.5,338.4 L1245.2,337.2 L1246.9,336.0 L1248.6,334.8 L1250.3,333.7 L1252.0,332.5 L1253.7,331.4 L1255.4,330.2 L1257.1,329.1 L1258.8,328.0 L1260.5,326.9 L1262.2,325.8 L1263.9,324.7 L1265.6,323.6 L1267.3,322.5 L1269.0,321.5 L1270.7,320.4 L1272.4,319.4 L1274.1,318.4 L1275.8,317.4 L1277.5,316.3 L1279.2,315.3 L1280.9,314.4 L1282.6,313.4 L1284.3,312.4 L1286.0,311.4 L1287.7,310.5 L1289.4,309.5 L1291.2,308.6 L1292.9,307.7 L1294.6,306.7 L1296.3,305.8 L1298.0,304.9 L1299.7,304.0 L1301.4,303.2 L1303.1,302.3 L1304.8,301.4 L1306.5,300.5 L1308.2,299.7 L1309.9,298.8 L1311.6,298.0 L1313.3,297.2 L1315.0,296.3 L1316.7,295.5 L1318.4,294.7 L1320.1,293.9 L1321.8,293.1 L1323.5,292.3 L1325.2,291.5 L1326.9,290.7 L1328.6,289.9 L1330.3,289.2 L1332.0,288.4 L1333.7,287.6 L1335.4,286.9 L1337.1,286.1 L1338.8,285.4 L1340.5,284.6 L1342.2,283.9 L1343.9,283.2 L1345.6,282.4 L1347.3,281.7 L1349.1,281.0 L1350.8,280.3 L1352.5,279.5 L1354.2,278.8 L1355.9,278.1 L1357.6,277.4 L1359.3,276.7 L1361.0,276.0 L1362.7,275.3 L1364.4,274.6 L1366.1,273.9 L1367.8,273.2 L1369.5,272.5 L1371.2,271.8 L1372.9,271.1 L1374.6,270.4 L1376.3,269.7 L1378.0,269.0 L1379.7,268.3 L1381.4,267.7 L1383.1,267.0 L1384.8,266.3 L1386.5,265.6 L1388.2,265.0 L1389.9,264.3 L1391.6,263.7 L1393.3,263.0 L1395.0,262.3 L1396.7,261.7 L1398.4,261.1 L1400.1,260.4 L1401.8,259.8 L1403.5,259.2 L1405.3,258.5 L1407.0,257.9 L1408.7,257.3 L1410.4,256.7 L1412.1,256.1 L1413.8,255.5 L1415.5,254.9 L1417.2,254.3 L1418.9,253.7 L1420.6,253.2 L1422.3,252.6 L1424.0,252.0 L1425.7,251.5 L1427.4,250.9 L1429.1,250.4 L1430.8,249.9 L1432.5,249.3 L1434.2,248.8 L1435.9,248.3 L1437.6,247.8 L1439.3,247.3 L1441.0,246.8 L1442.7,246.3 L1444.4,245.8 L1446.1,245.3 L1447.8,244.8 L1449.5,244.3 L1451.2,243.8 L1452.9,243.4 L1454.6,242.9 L1456.3,242.4 L1458.0,242.0 L1459.7,241.5 L1461.5,241.0 L1463.2,240.6 L1464.9,240.1 L1466.6,239.7 L1468.3,239.2 L1470.0,238.8 L1471.7,238.3 L1473.4,237.9 L1475.1,237.4 L1476.8,237.0 L1478.5,236.5 L1480.2,236.1 L1481.9,235.6 L1483.6,235.2 L1485.3,234.7 L1487.0,234.3 L1488.7,233.9 L1490.4,233.4 L1492.1,233.0 L1493.8,232.5 L1495.5,232.1 L1497.2,231.6 L1498.9,231.2 L1500.6,230.8 L1502.3,230.3 L1504.0,229.9 L1505.7,229.4 L1507.4,229.0 L1509.1,228.6 L1510.8,228.1 L1512.5,227.7 L1514.2,227.2 L1515.9,226.8 L1517.6,226.4 L1519.4,226.0 L1521.1,225.5 L1522.8,225.1 L1524.5,224.7 L1526.2,224.3 L1527.9,223.8 L1529.6,223.4 L1531.3,223.0 L1533.0,222.6 L1534.7,222.2 L1536.4,221.8 L1538.1,221.4 L1539.8,221.0 L1541.5,220.6 L1543.2,220.2 L1544.9,219.8 L1546.6,219.4 L1548.3,219.1 L1550.0,218.7 L1551.7,218.3 L1553.4,217.9 L1555.1,217.6 L1556.8,217.2 L1558.5,216.8 L1560.2,216.5 L1561.9,216.1 L1563.6,215.8 L1565.3,215.4 L1567.0,215.1 L1568.7,214.7 L1570.4,214.4 L1572.1,214.0 L1573.8,213.7 L1575.6,213.3 L1577.3,213.0 L1579.0,212.7 L1580.7,212.3 L1582.4,212.0 L1584.1,211.6 L1585.8,211.3 L1587.5,211.0 L1589.2,210.6 L1590.9,210.3 L1592.6,210.0 L1594.3,209.6 L1596.0,209.3 L1597.7,209.0 L1599.4,208.7 L1601.1,208.3 L1602.8,208.0" fill="none" stroke="#0070E5" stroke-width="3.6" stroke-linejoin="round"/>
<g><polygon points="412.4,1172.0 429.9,1203.0 394.9,1203.0" fill="#0070E5"/><polygon points="471.9,1171.7 489.4,1202.7 454.4,1202.7" fill="#0070E5"/><polygon points="531.4,1170.0 548.9,1201.0 513.9,1201.0" fill="#0070E5"/><polygon points="591.0,1166.2 608.5,1197.2 573.5,1197.2" fill="#0070E5"/><polygon points="650.5,1156.2 668.0,1187.2 633.0,1187.2" fill="#0070E5"/><polygon points="710.0,1131.1 727.5,1162.1 692.5,1162.1" fill="#0070E5"/><polygon points="769.5,1111.7 787.0,1142.7 752.0,1142.7" fill="#0070E5"/><polygon points="829.0,1101.8 846.5,1132.8 811.5,1132.8" fill="#0070E5"/><polygon points="888.6,1061.3 906.1,1092.3 871.1,1092.3" fill="#0070E5"/><polygon points="948.1,932.6 965.6,963.6 930.6,963.6" fill="#0070E5"/><polygon points="1007.6,724.5 1025.1,755.5 990.1,755.5" fill="#0070E5"/><polygon points="1067.1,548.9 1084.6,579.9 1049.6,579.9" fill="#0070E5"/><polygon points="1126.6,436.3 1144.1,467.3 1109.1,467.3" fill="#0070E5"/><polygon points="1186.2,362.5 1203.7,393.5 1168.7,393.5" fill="#0070E5"/><polygon points="1245.7,313.9 1263.2,344.9 1228.2,344.9" fill="#0070E5"/><polygon points="1305.2,278.9 1322.7,309.9 1287.7,309.9" fill="#0070E5"/><polygon points="1364.7,253.4 1382.2,284.4 1347.2,284.4" fill="#0070E5"/><polygon points="1424.2,229.9 1441.7,260.9 1406.7,260.9" fill="#0070E5"/><polygon points="1483.8,214.5 1501.3,245.5 1466.3,245.5" fill="#0070E5"/><polygon points="1543.3,198.8 1560.8,229.8 1525.8,229.8" fill="#0070E5"/><polygon points="1602.8,187.3 1620.3,218.3 1585.3,218.3" fill="#0070E5"/></g>
<path d="M412.4,1193.6 L414.1,1193.6 L415.8,1193.6 L417.5,1193.7 L419.2,1193.7 L420.9,1193.7 L422.6,1193.7 L424.3,1193.8 L426.0,1193.8 L427.7,1193.8 L429.4,1193.8 L431.1,1193.8 L432.8,1193.8 L434.5,1193.9 L436.2,1193.9 L437.9,1193.9 L439.6,1193.9 L441.4,1193.9 L443.1,1193.9 L444.8,1193.9 L446.5,1193.9 L448.2,1193.9 L449.9,1193.9 L451.6,1193.9 L453.3,1193.9 L455.0,1193.9 L456.7,1193.9 L458.4,1193.8 L460.1,1193.8 L461.8,1193.8 L463.5,1193.8 L465.2,1193.7 L466.9,1193.7 L468.6,1193.7 L470.3,1193.6 L472.0,1193.6 L473.7,1193.5 L475.4,1193.5 L477.1,1193.4 L478.8,1193.3 L480.5,1193.3 L482.2,1193.2 L483.9,1193.1 L485.6,1193.1 L487.3,1193.0 L489.0,1192.9 L490.7,1192.8 L492.4,1192.7 L494.1,1192.6 L495.8,1192.5 L497.6,1192.4 L499.3,1192.3 L501.0,1192.2 L502.7,1192.1 L504.4,1192.0 L506.1,1191.9 L507.8,1191.8 L509.5,1191.7 L511.2,1191.6 L512.9,1191.5 L514.6,1191.4 L516.3,1191.3 L518.0,1191.2 L519.7,1191.0 L521.4,1190.9 L523.1,1190.8 L524.8,1190.7 L526.5,1190.6 L528.2,1190.5 L529.9,1190.4 L531.6,1190.2 L533.3,1190.1 L535.0,1190.0 L536.7,1189.9 L538.4,1189.8 L540.1,1189.7 L541.8,1189.5 L543.5,1189.4 L545.2,1189.3 L546.9,1189.2 L548.6,1189.1 L550.3,1189.0 L552.0,1188.9 L553.7,1188.8 L555.5,1188.6 L557.2,1188.5 L558.9,1188.4 L560.6,1188.3 L562.3,1188.2 L564.0,1188.1 L565.7,1188.0 L567.4,1187.9 L569.1,1187.7 L570.8,1187.6 L572.5,1187.5 L574.2,1187.4 L575.9,1187.3 L577.6,1187.2 L579.3,1187.1 L581.0,1187.0 L582.7,1186.9 L584.4,1186.8 L586.1,1186.7 L587.8,1186.5 L589.5,1186.4 L591.2,1186.3 L592.9,1186.2 L594.6,1186.1 L596.3,1186.0 L598.0,1185.9 L599.7,1185.8 L601.4,1185.7 L603.1,1185.6 L604.8,1185.5 L606.5,1185.3 L608.2,1185.2 L609.9,1185.1 L611.7,1185.0 L613.4,1184.9 L615.1,1184.7 L616.8,1184.6 L618.5,1184.5 L620.2,1184.3 L621.9,1184.2 L623.6,1184.0 L625.3,1183.9 L627.0,1183.7 L628.7,1183.6 L630.4,1183.4 L632.1,1183.2 L633.8,1183.1 L635.5,1182.9 L637.2,1182.7 L638.9,1182.5 L640.6,1182.3 L642.3,1182.1 L644.0,1181.9 L645.7,1181.6 L647.4,1181.4 L649.1,1181.1 L650.8,1180.9 L652.5,1180.6 L654.2,1180.4 L655.9,1180.1 L657.6,1179.8 L659.3,1179.5 L661.0,1179.2 L662.7,1178.9 L664.4,1178.6 L666.1,1178.3 L667.9,1177.9 L669.6,1177.6 L671.3,1177.2 L673.0,1176.9 L674.7,1176.5 L676.4,1176.1 L678.1,1175.7 L679.8,1175.3 L681.5,1174.9 L683.2,1174.5 L684.9,1174.1 L686.6,1173.7 L688.3,1173.3 L690.0,1172.8 L691.7,1172.4 L693.4,1171.9 L695.1,1171.4 L696.8,1171.0 L698.5,1170.5 L700.2,1170.0 L701.9,1169.5 L703.6,1169.0 L705.3,1168.5 L707.0,1168.0 L708.7,1167.4 L710.4,1166.9 L712.1,1166.4 L713.8,1165.8 L715.5,1165.2 L717.2,1164.7 L718.9,1164.1 L720.6,1163.5 L722.3,1163.0 L724.0,1162.4 L725.8,1161.8 L727.5,1161.2 L729.2,1160.6 L730.9,1160.0 L732.6,1159.4 L734.3,1158.7 L736.0,1158.1 L737.7,1157.5 L739.4,1156.9 L741.1,1156.3 L742.8,1155.6 L744.5,1155.0 L746.2,1154.4 L747.9,1153.7 L749.6,1153.1 L751.3,1152.5 L753.0,1151.9 L754.7,1151.2 L756.4,1150.6 L758.1,1150.0 L759.8,1149.3 L761.5,1148.7 L763.2,1148.1 L764.9,1147.5 L766.6,1146.8 L768.3,1146.2 L770.0,1145.6 L771.7,1145.0 L773.4,1144.4 L775.1,1143.8 L776.8,1143.2 L778.5,1142.6 L780.2,1142.0 L782.0,1141.4 L783.7,1140.8 L785.4,1140.2 L787.1,1139.6 L788.8,1139.0 L790.5,1138.4 L792.2,1137.7 L793.9,1137.1 L795.6,1136.5 L797.3,1135.9 L799.0,1135.2 L800.7,1134.6 L802.4,1133.9 L804.1,1133.3 L805.8,1132.6 L807.5,1132.0 L809.2,1131.3 L810.9,1130.6 L812.6,1129.9 L814.3,1129.2 L816.0,1128.5 L817.7,1127.7 L819.4,1127.0 L821.1,1126.2 L822.8,1125.4 L824.5,1124.6 L826.2,1123.8 L827.9,1123.0 L829.6,1122.2 L831.3,1121.3 L833.0,1120.5 L834.7,1119.6 L836.4,1118.7 L838.2,1117.7 L839.9,1116.8 L841.6,1115.8 L843.3,1114.8 L845.0,1113.7 L846.7,1112.6 L848.4,1111.5 L850.1,1110.4 L851.8,1109.2 L853.5,1108.0 L855.2,1106.7 L856.9,1105.4 L858.6,1104.1 L860.3,1102.7 L862.0,1101.3 L863.7,1099.8 L865.4,1098.3 L867.1,1096.7 L868.8,1095.1 L870.5,1093.4 L872.2,1091.6 L873.9,1089.8 L875.6,1088.0 L877.3,1086.1 L879.0,1084.1 L880.7,1082.0 L882.4,1079.9 L884.1,1077.8 L885.8,1075.5 L887.5,1073.2 L889.2,1070.8 L890.9,1068.3 L892.6,1065.8 L894.4,1063.2 L896.1,1060.5 L897.8,1057.8 L899.5,1055.0 L901.2,1052.1 L902.9,1049.1 L904.6,1046.1 L906.3,1043.0 L908.0,1039.8 L909.7,1036.6 L911.4,1033.3 L913.1,1029.9 L914.8,1026.4 L916.5,1022.9 L918.2,1019.3 L919.9,1015.7 L921.6,1012.0 L923.3,1008.2 L925.0,1004.3 L926.7,1000.4 L928.4,996.4 L930.1,992.4 L931.8,988.3 L933.5,984.1 L935.2,979.9 L936.9,975.6 L938.6,971.2 L940.3,966.8 L942.0,962.3 L943.7,957.7 L945.4,953.1 L947.1,948.4 L948.8,943.7 L950.5,938.8 L952.3,934.0 L954.0,929.1 L955.7,924.1 L957.4,919.1 L959.1,914.0 L960.8,908.9 L962.5,903.7 L964.2,898.5 L965.9,893.3 L967.6,888.0 L969.3,882.7 L971.0,877.4 L972.7,872.0 L974.4,866.6 L976.1,861.2 L977.8,855.8 L979.5,850.3 L981.2,844.9 L982.9,839.4 L984.6,833.9 L986.3,828.4 L988.0,822.9 L989.7,817.4 L991.4,812.0 L993.1,806.5 L994.8,801.0 L996.5,795.5 L998.2,790.0 L999.9,784.6 L1001.6,779.2 L1003.3,773.7 L1005.0,768.4 L1006.7,763.0 L1008.5,757.6 L1010.2,752.3 L1011.9,747.1 L1013.6,741.8 L1015.3,736.6 L1017.0,731.4 L1018.7,726.2 L1020.4,721.1 L1022.1,716.0 L1023.8,710.9 L1025.5,705.9 L1027.2,700.9 L1028.9,696.0 L1030.6,691.0 L1032.3,686.1 L1034.0,681.3 L1035.7,676.5 L1037.4,671.7 L1039.1,667.0 L1040.8,662.3 L1042.5,657.6 L1044.2,653.0 L1045.9,648.4 L1047.6,643.9 L1049.3,639.4 L1051.0,634.9 L1052.7,630.5 L1054.4,626.2 L1056.1,621.9 L1057.8,617.6 L1059.5,613.4 L1061.2,609.2 L1062.9,605.1 L1064.7,601.0 L1066.4,596.9 L1068.1,593.0 L1069.8,589.0 L1071.5,585.1 L1073.2,581.3 L1074.9,577.5 L1076.6,573.8 L1078.3,570.1 L1080.0,566.4 L1081.7,562.8 L1083.4,559.3 L1085.1,555.7 L1086.8,552.3 L1088.5,548.8 L1090.2,545.5 L1091.9,542.1 L1093.6,538.8 L1095.3,535.6 L1097.0,532.3 L1098.7,529.2 L1100.4,526.0 L1102.1,522.9 L1103.8,519.9 L1105.5,516.9 L1107.2,513.9 L1108.9,510.9 L1110.6,508.0 L1112.3,505.2 L1114.0,502.3 L1115.7,499.6 L1117.4,496.8 L1119.1,494.1 L1120.8,491.4 L1122.6,488.7 L1124.3,486.1 L1126.0,483.5 L1127.7,481.0 L1129.4,478.4 L1131.1,476.0 L1132.8,473.5 L1134.5,471.1 L1136.2,468.7 L1137.9,466.3 L1139.6,464.0 L1141.3,461.7 L1143.0,459.4 L1144.7,457.1 L1146.4,454.9 L1148.1,452.7 L1149.8,450.5 L1151.5,448.4 L1153.2,446.3 L1154.9,444.2 L1156.6,442.1 L1158.3,440.1 L1160.0,438.1 L1161.7,436.1 L1163.4,434.1 L1165.1,432.2 L1166.8,430.3 L1168.5,428.4 L1170.2,426.5 L1171.9,424.7 L1173.6,422.9 L1175.3,421.0 L1177.0,419.3 L1178.8,417.5 L1180.5,415.8 L1182.2,414.0 L1183.9,412.3 L1185.6,410.7 L1187.3,409.0 L1189.0,407.3 L1190.7,405.7 L1192.4,404.1 L1194.1,402.5 L1195.8,400.9 L1197.5,399.4 L1199.2,397.8 L1200.9,396.3 L1202.6,394.8 L1204.3,393.3 L1206.0,391.8 L1207.7,390.4 L1209.4,388.9 L1211.1,387.5 L1212.8,386.1 L1214.5,384.7 L1216.2,383.3 L1217.9,382.0 L1219.6,380.6 L1221.3,379.3 L1223.0,378.0 L1224.7,376.6 L1226.4,375.4 L1228.1,374.1 L1229.8,372.8 L1231.5,371.6 L1233.2,370.3 L1235.0,369.1 L1236.7,367.9 L1238.4,366.7 L1240.1,365.5 L1241.8,364.3 L1243.5,363.2 L1245.2,362.0 L1246.9,360.9 L1248.6,359.7 L1250.3,358.6 L1252.0,357.5 L1253.7,356.4 L1255.4,355.3 L1257.1,354.3 L1258.8,353.2 L1260.5,352.2 L1262.2,351.1 L1263.9,350.1 L1265.6,349.1 L1267.3,348.1 L1269.0,347.0 L1270.7,346.1 L1272.4,345.1 L1274.1,344.1 L1275.8,343.1 L1277.5,342.2 L1279.2,341.2 L1280.9,340.3 L1282.6,339.4 L1284.3,338.4 L1286.0,337.5 L1287.7,336.6 L1289.4,335.7 L1291.2,334.8 L1292.9,333.9 L1294.6,333.1 L1296.3,332.2 L1298.0,331.3 L1299.7,330.5 L1301.4,329.6 L1303.1,328.8 L1304.8,327.9 L1306.5,327.1 L1308.2,326.3 L1309.9,325.5 L1311.6,324.7 L1313.3,323.8 L1315.0,323.0 L1316.7,322.2 L1318.4,321.5 L1320.1,320.7 L1321.8,319.9 L1323.5,319.1 L1325.2,318.3 L1326.9,317.6 L1328.6,316.8 L1330.3,316.1 L1332.0,315.3 L1333.7,314.6 L1335.4,313.8 L1337.1,313.1 L1338.8,312.4 L1340.5,311.6 L1342.2,310.9 L1343.9,310.2 L1345.6,309.5 L1347.3,308.8 L1349.1,308.1 L1350.8,307.4 L1352.5,306.7 L1354.2,306.0 L1355.9,305.3 L1357.6,304.6 L1359.3,303.9 L1361.0,303.2 L1362.7,302.6 L1364.4,301.9 L1366.1,301.2 L1367.8,300.5 L1369.5,299.9 L1371.2,299.2 L1372.9,298.6 L1374.6,297.9 L1376.3,297.3 L1378.0,296.6 L1379.7,296.0 L1381.4,295.3 L1383.1,294.7 L1384.8,294.1 L1386.5,293.4 L1388.2,292.8 L1389.9,292.2 L1391.6,291.6 L1393.3,291.0 L1395.0,290.4 L1396.7,289.7 L1398.4,289.1 L1400.1,288.5 L1401.8,288.0 L1403.5,287.4 L1405.3,286.8 L1407.0,286.2 L1408.7,285.6 L1410.4,285.1 L1412.1,284.5 L1413.8,283.9 L1415.5,283.4 L1417.2,282.8 L1418.9,282.3 L1420.6,281.7 L1422.3,281.2 L1424.0,280.6 L1425.7,280.1 L1427.4,279.6 L1429.1,279.0 L1430.8,278.5 L1432.5,278.0 L1434.2,277.5 L1435.9,277.0 L1437.6,276.5 L1439.3,276.0 L1441.0,275.5 L1442.7,275.0 L1444.4,274.5 L1446.1,274.1 L1447.8,273.6 L1449.5,273.1 L1451.2,272.6 L1452.9,272.2 L1454.6,271.7 L1456.3,271.2 L1458.0,270.8 L1459.7,270.3 L1461.5,269.9 L1463.2,269.4 L1464.9,269.0 L1466.6,268.5 L1468.3,268.1 L1470.0,267.7 L1471.7,267.2 L1473.4,266.8 L1475.1,266.4 L1476.8,265.9 L1478.5,265.5 L1480.2,265.1 L1481.9,264.7 L1483.6,264.3 L1485.3,263.8 L1487.0,263.4 L1488.7,263.0 L1490.4,262.6 L1492.1,262.2 L1493.8,261.8 L1495.5,261.4 L1497.2,261.0 L1498.9,260.6 L1500.6,260.2 L1502.3,259.8 L1504.0,259.4 L1505.7,259.0 L1507.4,258.6 L1509.1,258.2 L1510.8,257.8 L1512.5,257.5 L1514.2,257.1 L1515.9,256.7 L1517.6,256.3 L1519.4,255.9 L1521.1,255.6 L1522.8,255.2 L1524.5,254.8 L1526.2,254.4 L1527.9,254.1 L1529.6,253.7 L1531.3,253.3 L1533.0,253.0 L1534.7,252.6 L1536.4,252.2 L1538.1,251.9 L1539.8,251.5 L1541.5,251.1 L1543.2,250.8 L1544.9,250.4 L1546.6,250.1 L1548.3,249.7 L1550.0,249.4 L1551.7,249.0 L1553.4,248.7 L1555.1,248.3 L1556.8,248.0 L1558.5,247.6 L1560.2,247.3 L1561.9,246.9 L1563.6,246.6 L1565.3,246.2 L1567.0,245.9 L1568.7,245.5 L1570.4,245.2 L1572.1,244.9 L1573.8,244.5 L1575.6,244.2 L1577.3,243.8 L1579.0,243.5 L1580.7,243.2 L1582.4,242.8 L1584.1,242.5 L1585.8,242.2 L1587.5,241.8 L1589.2,241.5 L1590.9,241.1 L1592.6,240.8 L1594.3,240.5 L1596.0,240.1 L1597.7,239.8 L1599.4,239.5 L1601.1,239.1 L1602.8,238.8" fill="none" stroke="#00AF66" stroke-width="3.6" stroke-linejoin="round"/>
<g><polygon points="412.4,1214.3 429.9,1183.3 394.9,1183.3" fill="#00AF66"/><polygon points="471.9,1215.1 489.4,1184.1 454.4,1184.1" fill="#00AF66"/><polygon points="531.4,1210.9 548.9,1179.9 513.9,1179.9" fill="#00AF66"/><polygon points="591.0,1207.0 608.5,1176.0 573.5,1176.0" fill="#00AF66"/><polygon points="650.5,1203.4 668.0,1172.4 633.0,1172.4" fill="#00AF66"/><polygon points="710.0,1189.3 727.5,1158.3 692.5,1158.3" fill="#00AF66"/><polygon points="769.5,1165.8 787.0,1134.8 752.0,1134.8" fill="#00AF66"/><polygon points="829.0,1146.5 846.5,1115.5 811.5,1115.5" fill="#00AF66"/><polygon points="888.6,1107.3 906.1,1076.3 871.1,1076.3" fill="#00AF66"/><polygon points="948.1,979.1 965.6,948.1 930.6,948.1" fill="#00AF66"/><polygon points="1007.6,775.3 1025.1,744.3 990.1,744.3" fill="#00AF66"/><polygon points="1067.1,605.8 1084.6,574.8 1049.6,574.8" fill="#00AF66"/><polygon points="1126.6,496.6 1144.1,465.6 1109.1,465.6" fill="#00AF66"/><polygon points="1186.2,427.0 1203.7,396.0 1168.7,396.0" fill="#00AF66"/><polygon points="1245.7,380.0 1263.2,349.0 1228.2,349.0" fill="#00AF66"/><polygon points="1305.2,347.2 1322.7,316.2 1287.7,316.2" fill="#00AF66"/><polygon points="1364.7,321.8 1382.2,290.8 1347.2,290.8" fill="#00AF66"/><polygon points="1424.2,300.3 1441.7,269.3 1406.7,269.3" fill="#00AF66"/><polygon points="1483.8,284.5 1501.3,253.5 1466.3,253.5" fill="#00AF66"/><polygon points="1543.3,271.2 1560.8,240.2 1525.8,240.2" fill="#00AF66"/><polygon points="1602.8,259.5 1620.3,228.5 1585.3,228.5" fill="#00AF66"/></g>
<path d="M412.4,1196.3 L414.1,1196.3 L415.8,1196.2 L417.5,1196.2 L419.2,1196.1 L420.9,1196.1 L422.6,1196.0 L424.3,1196.0 L426.0,1195.9 L427.7,1195.9 L429.4,1195.8 L431.1,1195.8 L432.8,1195.7 L434.5,1195.7 L436.2,1195.6 L437.9,1195.6 L439.6,1195.5 L441.4,1195.5 L443.1,1195.4 L444.8,1195.4 L446.5,1195.3 L448.2,1195.2 L449.9,1195.2 L451.6,1195.1 L453.3,1195.1 L455.0,1195.0 L456.7,1195.0 L458.4,1194.9 L460.1,1194.9 L461.8,1194.8 L463.5,1194.7 L465.2,1194.7 L466.9,1194.6 L468.6,1194.6 L470.3,1194.5 L472.0,1194.4 L473.7,1194.4 L475.4,1194.3 L477.1,1194.3 L478.8,1194.2 L480.5,1194.1 L482.2,1194.1 L483.9,1194.0 L485.6,1193.9 L487.3,1193.9 L489.0,1193.8 L490.7,1193.7 L492.4,1193.7 L494.1,1193.6 L495.8,1193.5 L497.6,1193.4 L499.3,1193.4 L501.0,1193.3 L502.7,1193.2 L504.4,1193.1 L506.1,1193.1 L507.8,1193.0 L509.5,1192.9 L511.2,1192.8 L512.9,1192.8 L514.6,1192.7 L516.3,1192.6 L518.0,1192.5 L519.7,1192.4 L521.4,1192.4 L523.1,1192.3 L524.8,1192.2 L526.5,1192.1 L528.2,1192.0 L529.9,1191.9 L531.6,1191.8 L533.3,1191.8 L535.0,1191.7 L536.7,1191.6 L538.4,1191.5 L540.1,1191.4 L541.8,1191.3 L543.5,1191.2 L545.2,1191.1 L546.9,1191.0 L548.6,1190.9 L550.3,1190.8 L552.0,1190.7 L553.7,1190.6 L555.5,1190.5 L557.2,1190.4 L558.9,1190.3 L560.6,1190.2 L562.3,1190.1 L564.0,1190.0 L565.7,1189.9 L567.4,1189.8 L569.1,1189.7 L570.8,1189.6 L572.5,1189.5 L574.2,1189.4 L575.9,1189.3 L577.6,1189.2 L579.3,1189.0 L581.0,1188.9 L582.7,1188.8 L584.4,1188.7 L586.1,1188.6 L587.8,1188.5 L589.5,1188.3 L591.2,1188.2 L592.9,1188.1 L594.6,1188.0 L596.3,1187.8 L598.0,1187.7 L599.7,1187.6 L601.4,1187.5 L603.1,1187.3 L604.8,1187.2 L606.5,1187.0 L608.2,1186.9 L609.9,1186.8 L611.7,1186.6 L613.4,1186.5 L615.1,1186.3 L616.8,1186.2 L618.5,1186.1 L620.2,1185.9 L621.9,1185.8 L623.6,1185.6 L625.3,1185.4 L627.0,1185.3 L628.7,1185.1 L630.4,1185.0 L632.1,1184.8 L633.8,1184.7 L635.5,1184.5 L637.2,1184.3 L638.9,1184.1 L640.6,1184.0 L642.3,1183.8 L644.0,1183.6 L645.7,1183.4 L647.4,1183.3 L649.1,1183.1 L650.8,1182.9 L652.5,1182.7 L654.2,1182.5 L655.9,1182.3 L657.6,1182.1 L659.3,1181.9 L661.0,1181.7 L662.7,1181.5 L664.4,1181.3 L666.1,1181.1 L667.9,1180.9 L669.6,1180.7 L671.3,1180.5 L673.0,1180.2 L674.7,1180.0 L676.4,1179.8 L678.1,1179.5 L679.8,1179.3 L681.5,1179.0 L683.2,1178.8 L684.9,1178.5 L686.6,1178.3 L688.3,1178.0 L690.0,1177.7 L691.7,1177.4 L693.4,1177.2 L695.1,1176.9 L696.8,1176.6 L698.5,1176.3 L700.2,1176.0 L701.9,1175.7 L703.6,1175.3 L705.3,1175.0 L707.0,1174.7 L708.7,1174.3 L710.4,1174.0 L712.1,1173.6 L713.8,1173.3 L715.5,1172.9 L717.2,1172.5 L718.9,1172.2 L720.6,1171.8 L722.3,1171.4 L724.0,1171.0 L725.8,1170.6 L727.5,1170.2 L729.2,1169.7 L730.9,1169.3 L732.6,1168.9 L734.3,1168.4 L736.0,1168.0 L737.7,1167.5 L739.4,1167.0 L741.1,1166.6 L742.8,1166.1 L744.5,1165.6 L746.2,1165.1 L747.9,1164.6 L749.6,1164.1 L751.3,1163.6 L753.0,1163.0 L754.7,1162.5 L756.4,1162.0 L758.1,1161.4 L759.8,1160.9 L761.5,1160.3 L763.2,1159.7 L764.9,1159.1 L766.6,1158.5 L768.3,1158.0 L770.0,1157.4 L771.7,1156.7 L773.4,1156.1 L775.1,1155.5 L776.8,1154.9 L778.5,1154.2 L780.2,1153.6 L782.0,1152.9 L783.7,1152.2 L785.4,1151.6 L787.1,1150.9 L788.8,1150.2 L790.5,1149.5 L792.2,1148.8 L793.9,1148.0 L795.6,1147.3 L797.3,1146.6 L799.0,1145.8 L800.7,1145.0 L802.4,1144.3 L804.1,1143.5 L805.8,1142.7 L807.5,1141.9 L809.2,1141.1 L810.9,1140.2 L812.6,1139.4 L814.3,1138.5 L816.0,1137.7 L817.7,1136.8 L819.4,1135.9 L821.1,1135.0 L822.8,1134.1 L824.5,1133.2 L826.2,1132.2 L827.9,1131.3 L829.6,1130.3 L831.3,1129.3 L833.0,1128.3 L834.7,1127.3 L836.4,1126.3 L838.2,1125.2 L839.9,1124.2 L841.6,1123.1 L843.3,1121.9 L845.0,1120.8 L846.7,1119.6 L848.4,1118.4 L850.1,1117.2 L851.8,1115.9 L853.5,1114.6 L855.2,1113.3 L856.9,1111.9 L858.6,1110.5 L860.3,1109.0 L862.0,1107.6 L863.7,1106.0 L865.4,1104.4 L867.1,1102.8 L868.8,1101.1 L870.5,1099.4 L872.2,1097.6 L873.9,1095.8 L875.6,1093.9 L877.3,1091.9 L879.0,1089.9 L880.7,1087.9 L882.4,1085.7 L884.1,1083.5 L885.8,1081.3 L887.5,1079.0 L889.2,1076.6 L890.9,1074.1 L892.6,1071.6 L894.4,1069.0 L896.1,1066.4 L897.8,1063.6 L899.5,1060.8 L901.2,1058.0 L902.9,1055.1 L904.6,1052.1 L906.3,1049.0 L908.0,1045.9 L909.7,1042.7 L911.4,1039.5 L913.1,1036.2 L914.8,1032.8 L916.5,1029.3 L918.2,1025.8 L919.9,1022.3 L921.6,1018.7 L923.3,1015.0 L925.0,1011.2 L926.7,1007.4 L928.4,1003.5 L930.1,999.6 L931.8,995.6 L933.5,991.6 L935.2,987.5 L936.9,983.3 L938.6,979.1 L940.3,974.8 L942.0,970.5 L943.7,966.1 L945.4,961.6 L947.1,957.1 L948.8,952.5 L950.5,947.9 L952.3,943.2 L954.0,938.5 L955.7,933.7 L957.4,928.9 L959.1,924.1 L960.8,919.2 L962.5,914.2 L964.2,909.3 L965.9,904.3 L967.6,899.2 L969.3,894.2 L971.0,889.1 L972.7,884.0 L974.4,878.9 L976.1,873.7 L977.8,868.6 L979.5,863.4 L981.2,858.3 L982.9,853.1 L984.6,847.9 L986.3,842.7 L988.0,837.5 L989.7,832.3 L991.4,827.2 L993.1,822.0 L994.8,816.8 L996.5,811.7 L998.2,806.6 L999.9,801.5 L1001.6,796.4 L1003.3,791.3 L1005.0,786.3 L1006.7,781.3 L1008.5,776.3 L1010.2,771.4 L1011.9,766.5 L1013.6,761.6 L1015.3,756.8 L1017.0,752.0 L1018.7,747.2 L1020.4,742.5 L1022.1,737.8 L1023.8,733.1 L1025.5,728.5 L1027.2,723.9 L1028.9,719.4 L1030.6,714.8 L1032.3,710.4 L1034.0,705.9 L1035.7,701.6 L1037.4,697.2 L1039.1,692.9 L1040.8,688.6 L1042.5,684.4 L1044.2,680.2 L1045.9,676.1 L1047.6,672.0 L1049.3,667.9 L1051.0,663.9 L1052.7,659.9 L1054.4,656.0 L1056.1,652.1 L1057.8,648.3 L1059.5,644.5 L1061.2,640.7 L1062.9,637.0 L1064.7,633.4 L1066.4,629.8 L1068.1,626.2 L1069.8,622.7 L1071.5,619.2 L1073.2,615.8 L1074.9,612.5 L1076.6,609.1 L1078.3,605.9 L1080.0,602.6 L1081.7,599.4 L1083.4,596.3 L1085.1,593.2 L1086.8,590.1 L1088.5,587.1 L1090.2,584.1 L1091.9,581.2 L1093.6,578.3 L1095.3,575.4 L1097.0,572.6 L1098.7,569.8 L1100.4,567.1 L1102.1,564.4 L1103.8,561.7 L1105.5,559.1 L1107.2,556.5 L1108.9,554.0 L1110.6,551.4 L1112.3,548.9 L1114.0,546.5 L1115.7,544.1 L1117.4,541.7 L1119.1,539.3 L1120.8,537.0 L1122.6,534.7 L1124.3,532.5 L1126.0,530.2 L1127.7,528.0 L1129.4,525.9 L1131.1,523.7 L1132.8,521.6 L1134.5,519.5 L1136.2,517.5 L1137.9,515.4 L1139.6,513.4 L1141.3,511.5 L1143.0,509.5 L1144.7,507.6 L1146.4,505.7 L1148.1,503.8 L1149.8,502.0 L1151.5,500.1 L1153.2,498.3 L1154.9,496.6 L1156.6,494.8 L1158.3,493.1 L1160.0,491.4 L1161.7,489.7 L1163.4,488.0 L1165.1,486.3 L1166.8,484.7 L1168.5,483.1 L1170.2,481.5 L1171.9,479.9 L1173.6,478.4 L1175.3,476.8 L1177.0,475.3 L1178.8,473.8 L1180.5,472.3 L1182.2,470.9 L1183.9,469.4 L1185.6,468.0 L1187.3,466.5 L1189.0,465.1 L1190.7,463.7 L1192.4,462.4 L1194.1,461.0 L1195.8,459.6 L1197.5,458.3 L1199.2,457.0 L1200.9,455.7 L1202.6,454.4 L1204.3,453.1 L1206.0,451.8 L1207.7,450.5 L1209.4,449.3 L1211.1,448.1 L1212.8,446.8 L1214.5,445.6 L1216.2,444.4 L1217.9,443.3 L1219.6,442.1 L1221.3,440.9 L1223.0,439.8 L1224.7,438.7 L1226.4,437.6 L1228.1,436.5 L1229.8,435.4 L1231.5,434.3 L1233.2,433.2 L1235.0,432.2 L1236.7,431.1 L1238.4,430.1 L1240.1,429.1 L1241.8,428.0 L1243.5,427.0 L1245.2,426.1 L1246.9,425.1 L1248.6,424.1 L1250.3,423.2 L1252.0,422.2 L1253.7,421.3 L1255.4,420.4 L1257.1,419.5 L1258.8,418.5 L1260.5,417.7 L1262.2,416.8 L1263.9,415.9 L1265.6,415.0 L1267.3,414.2 L1269.0,413.3 L1270.7,412.5 L1272.4,411.7 L1274.1,410.8 L1275.8,410.0 L1277.5,409.2 L1279.2,408.4 L1280.9,407.6 L1282.6,406.8 L1284.3,406.0 L1286.0,405.3 L1287.7,404.5 L1289.4,403.7 L1291.2,403.0 L1292.9,402.2 L1294.6,401.5 L1296.3,400.8 L1298.0,400.0 L1299.7,399.3 L1301.4,398.6 L1303.1,397.9 L1304.8,397.2 L1306.5,396.5 L1308.2,395.8 L1309.9,395.1 L1311.6,394.4 L1313.3,393.7 L1315.0,393.0 L1316.7,392.3 L1318.4,391.6 L1320.1,391.0 L1321.8,390.3 L1323.5,389.6 L1325.2,389.0 L1326.9,388.3 L1328.6,387.7 L1330.3,387.0 L1332.0,386.4 L1333.7,385.7 L1335.4,385.1 L1337.1,384.5 L1338.8,383.8 L1340.5,383.2 L1342.2,382.6 L1343.9,382.0 L1345.6,381.4 L1347.3,380.8 L1349.1,380.2 L1350.8,379.6 L1352.5,379.0 L1354.2,378.4 L1355.9,377.8 L1357.6,377.3 L1359.3,376.7 L1361.0,376.1 L1362.7,375.6 L1364.4,375.0 L1366.1,374.4 L1367.8,373.9 L1369.5,373.3 L1371.2,372.8 L1372.9,372.3 L1374.6,371.7 L1376.3,371.2 L1378.0,370.7 L1379.7,370.2 L1381.4,369.6 L1383.1,369.1 L1384.8,368.6 L1386.5,368.1 L1388.2,367.6 L1389.9,367.1 L1391.6,366.6 L1393.3,366.1 L1395.0,365.7 L1396.7,365.2 L1398.4,364.7 L1400.1,364.2 L1401.8,363.8 L1403.5,363.3 L1405.3,362.9 L1407.0,362.4 L1408.7,362.0 L1410.4,361.5 L1412.1,361.1 L1413.8,360.6 L1415.5,360.2 L1417.2,359.8 L1418.9,359.4 L1420.6,359.0 L1422.3,358.5 L1424.0,358.1 L1425.7,357.7 L1427.4,357.3 L1429.1,356.9 L1430.8,356.5 L1432.5,356.1 L1434.2,355.8 L1435.9,355.4 L1437.6,355.0 L1439.3,354.6 L1441.0,354.2 L1442.7,353.9 L1444.4,353.5 L1446.1,353.1 L1447.8,352.8 L1449.5,352.4 L1451.2,352.1 L1452.9,351.7 L1454.6,351.4 L1456.3,351.0 L1458.0,350.7 L1459.7,350.3 L1461.5,350.0 L1463.2,349.6 L1464.9,349.3 L1466.6,348.9 L1468.3,348.6 L1470.0,348.3 L1471.7,347.9 L1473.4,347.6 L1475.1,347.2 L1476.8,346.9 L1478.5,346.6 L1480.2,346.2 L1481.9,345.9 L1483.6,345.5 L1485.3,345.2 L1487.0,344.9 L1488.7,344.5 L1490.4,344.2 L1492.1,343.8 L1493.8,343.5 L1495.5,343.1 L1497.2,342.8 L1498.9,342.5 L1500.6,342.1 L1502.3,341.8 L1504.0,341.4 L1505.7,341.1 L1507.4,340.8 L1509.1,340.4 L1510.8,340.1 L1512.5,339.8 L1514.2,339.4 L1515.9,339.1 L1517.6,338.8 L1519.4,338.4 L1521.1,338.1 L1522.8,337.8 L1524.5,337.4 L1526.2,337.1 L1527.9,336.8 L1529.6,336.5 L1531.3,336.2 L1533.0,335.8 L1534.7,335.5 L1536.4,335.2 L1538.1,334.9 L1539.8,334.6 L1541.5,334.3 L1543.2,334.0 L1544.9,333.7 L1546.6,333.4 L1548.3,333.1 L1550.0,332.8 L1551.7,332.5 L1553.4,332.3 L1555.1,332.0 L1556.8,331.7 L1558.5,331.4 L1560.2,331.1 L1561.9,330.9 L1563.6,330.6 L1565.3,330.3 L1567.0,330.1 L1568.7,329.8 L1570.4,329.5 L1572.1,329.3 L1573.8,329.0 L1575.6,328.7 L1577.3,328.5 L1579.0,328.2 L1580.7,328.0 L1582.4,327.7 L1584.1,327.5 L1585.8,327.2 L1587.5,327.0 L1589.2,326.7 L1590.9,326.4 L1592.6,326.2 L1594.3,325.9 L1596.0,325.7 L1597.7,325.4 L1599.4,325.2 L1601.1,324.9 L1602.8,324.7" fill="none" stroke="#C37BE3" stroke-width="3.6" stroke-linejoin="round"/>
<g><polygon points="412.4,1178.0 429.9,1196.3 412.4,1214.6 394.9,1196.3" fill="#C37BE3"/><polygon points="471.9,1176.3 489.4,1194.6 471.9,1212.9 454.4,1194.6" fill="#C37BE3"/><polygon points="531.4,1173.7 548.9,1192.0 531.4,1210.3 513.9,1192.0" fill="#C37BE3"/><polygon points="591.0,1170.2 608.5,1188.5 591.0,1206.8 573.5,1188.5" fill="#C37BE3"/><polygon points="650.5,1165.1 668.0,1183.4 650.5,1201.7 633.0,1183.4" fill="#C37BE3"/><polygon points="710.0,1157.2 727.5,1175.5 710.0,1193.8 692.5,1175.5" fill="#C37BE3"/><polygon points="769.5,1140.8 787.0,1159.1 769.5,1177.4 752.0,1159.1" fill="#C37BE3"/><polygon points="829.0,1115.0 846.5,1133.3 829.0,1151.6 811.5,1133.3" fill="#C37BE3"/><polygon points="888.6,1073.2 906.1,1091.5 888.6,1109.8 871.1,1091.5" fill="#C37BE3"/><polygon points="948.1,947.7 965.6,966.0 948.1,984.3 930.6,966.0" fill="#C37BE3"/><polygon points="1007.6,753.8 1025.1,772.1 1007.6,790.4 990.1,772.1" fill="#C37BE3"/><polygon points="1067.1,600.1 1084.6,618.4 1067.1,636.7 1049.6,618.4" fill="#C37BE3"/><polygon points="1126.6,505.0 1144.1,523.3 1126.6,541.6 1109.1,523.3" fill="#C37BE3"/><polygon points="1186.2,446.2 1203.7,464.5 1186.2,482.8 1168.7,464.5" fill="#C37BE3"/><polygon points="1245.7,405.2 1263.2,423.5 1245.7,441.8 1228.2,423.5" fill="#C37BE3"/><polygon points="1305.2,377.8 1322.7,396.1 1305.2,414.4 1287.7,396.1" fill="#C37BE3"/><polygon points="1364.7,355.7 1382.2,374.0 1364.7,392.3 1347.2,374.0" fill="#C37BE3"/><polygon points="1424.2,338.9 1441.7,357.2 1424.2,375.5 1406.7,357.2" fill="#C37BE3"/><polygon points="1483.8,327.3 1501.3,345.6 1483.8,363.9 1466.3,345.6" fill="#C37BE3"/><polygon points="1543.3,315.1 1560.8,333.4 1543.3,351.7 1525.8,333.4" fill="#C37BE3"/><polygon points="1602.8,306.4 1620.3,324.7 1602.8,343.0 1585.3,324.7" fill="#C37BE3"/></g>
<rect x="264" y="45.5" width="1488" height="1202.5" fill="none" stroke="#000" stroke-width="4"/>
<path d="M411.3,1247 V1222.5 M710.5,1247 V1222.5 M1007.8,1247 V1222.5 M1304.8,1247 V1222.5 M1604,1247 V1222.5 M560.9,1247 V1234.2 M859.2,1247 V1234.2 M1156.3,1247 V1234.2 M1454.3,1247 V1234.2 M265,179.7 H287 M265,446.1 H287 M265,712.8 H287 M265,979.2 H287 M265,312.9 H276.5 M265,579.5 H276.5 M265,846.0 H276.5 M265,1112.5 H276.5" stroke="#000" stroke-width="4" fill="none"/>
<text transform="translate(237.00,194.90) scale(1,1.0)" font-size="60" text-anchor="end">0.8</text>
<text transform="translate(237.00,461.30) scale(1,1.0)" font-size="60" text-anchor="end">0.6</text>
<text transform="translate(237.00,728.00) scale(1,1.0)" font-size="60" text-anchor="end">0.4</text>
<text transform="translate(237.00,994.40) scale(1,1.0)" font-size="60" text-anchor="end">0.2</text>
<text transform="translate(237.00,1262.30) scale(1,1.0)" font-size="60" text-anchor="end">0</text>
<text transform="translate(709.40,1317.20) scale(1,1.0)" font-size="60" text-anchor="middle">0.0</text>
<text transform="translate(1007.20,1317.20) scale(1,1.0)" font-size="60" text-anchor="middle">0.5</text>
<text transform="translate(1304.40,1317.20) scale(1,1.0)" font-size="60" text-anchor="middle">1.0</text>
<text transform="translate(1602.60,1317.20) scale(1,1.0)" font-size="60" text-anchor="middle">1.5</text>
<text transform="translate(420.50,1317.20) scale(1,1.0)" font-size="60" text-anchor="middle">0.5</text>
<text transform="translate(335.70,1307.90) scale(1,1.0)" font-size="46.5" style="font-weight:normal">&#8722;</text>
<text transform="translate(938.00,1424.70) scale(1,1.035)" font-size="60">E</text>
<text transform="translate(994.70,1424.70) scale(1,1.0)" font-size="58">(</text>
<text transform="translate(1014.70,1424.70) scale(1,1.035)" font-size="60">V</text>
<text transform="translate(1054.70,1424.70) scale(1,1.0)" font-size="58">)</text>
<text transform="translate(76.7,763.2) rotate(-90) scale(1,1.035)" font-size="60" >C</text>
<text transform="translate(100.5,718.2) rotate(-90) scale(1,1.0)" font-size="47.5" >S</text>
<text transform="translate(76.6,682.5) rotate(-90) scale(1,1.0)" font-size="58" >(</text>
<text transform="translate(77.0,663.0) rotate(-90) scale(1,1.0)" font-size="53" style="font-family:'DejaVu Serif',serif;font-weight:normal">&#956;</text>
<text transform="translate(76.7,630.8) rotate(-90) scale(1,1.035)" font-size="60" >F</text>
<text transform="translate(76.6,590.4) rotate(-90) scale(1,1.0)" font-size="58" >)</text>
<path d="M434.5,213 H566.6" stroke="#505050" stroke-width="3.6"/>
<rect x="486.8" y="196.7" width="27" height="27" fill="#505050"/>
<text transform="translate(580.70,230.50) scale(1,1.03)" font-size="60">10 mHz</text>
<path d="M434.5,288.8 H564.5" stroke="#FF4040" stroke-width="3.6"/>
<circle cx="499.7" cy="287.6" r="14.8" fill="#FF4040"/>
<text transform="translate(580.70,306.30) scale(1,1.03)" font-size="60">1 Hz</text>
<path d="M434.5,364.4 H564.5" stroke="#0070E5" stroke-width="3.6"/>
<polygon points="499.5,345.5 518.0,373.9 481.0,373.9" fill="#0070E5"/>
<text transform="translate(580.70,381.90) scale(1,1.03)" font-size="60">100 Hz</text>
<path d="M434.5,440.3 H564.5" stroke="#00AF66" stroke-width="3.6"/>
<polygon points="499.5,459.6 518.0,431.2 481.0,431.2" fill="#00AF66"/>
<text transform="translate(580.70,457.80) scale(1,1.03)" font-size="60">1</text>
<text transform="translate(621.40,457.80) scale(1,1.0)" font-size="51.5">KHz</text>
<path d="M434.5,516.0 H564.5" stroke="#C37BE3" stroke-width="3.6"/>
<polygon points="500.8,498.9 516.7,516.3 500.8,533.6 484.9,516.3" fill="#C37BE3"/>
<text transform="translate(580.70,533.50) scale(1,1.03)" font-size="60">10 KHz</text>
<rect x="1265.48" y="1309.78" width="11.22" height="9.42" fill="#fff"/><rect x="1284.93" y="1309.78" width="10.43" height="9.42" fill="#fff"/>
<rect x="1563.68" y="1309.78" width="11.22" height="9.42" fill="#fff"/><rect x="1583.13" y="1309.78" width="10.43" height="9.42" fill="#fff"/>
<rect x="583.48" y="222.89" width="11.22" height="9.61" fill="#fff"/><rect x="602.94" y="222.89" width="10.43" height="9.61" fill="#fff"/>
<rect x="583.48" y="298.69" width="11.22" height="9.61" fill="#fff"/><rect x="602.94" y="298.69" width="10.43" height="9.61" fill="#fff"/>
<rect x="583.48" y="374.29" width="11.22" height="9.61" fill="#fff"/><rect x="602.94" y="374.29" width="10.43" height="9.61" fill="#fff"/>
<rect x="583.48" y="450.19" width="11.22" height="9.61" fill="#fff"/><rect x="602.94" y="450.19" width="10.43" height="9.61" fill="#fff"/>
<rect x="583.48" y="525.89" width="11.22" height="9.61" fill="#fff"/><rect x="602.94" y="525.89" width="10.43" height="9.61" fill="#fff"/>
</svg></body></html>
